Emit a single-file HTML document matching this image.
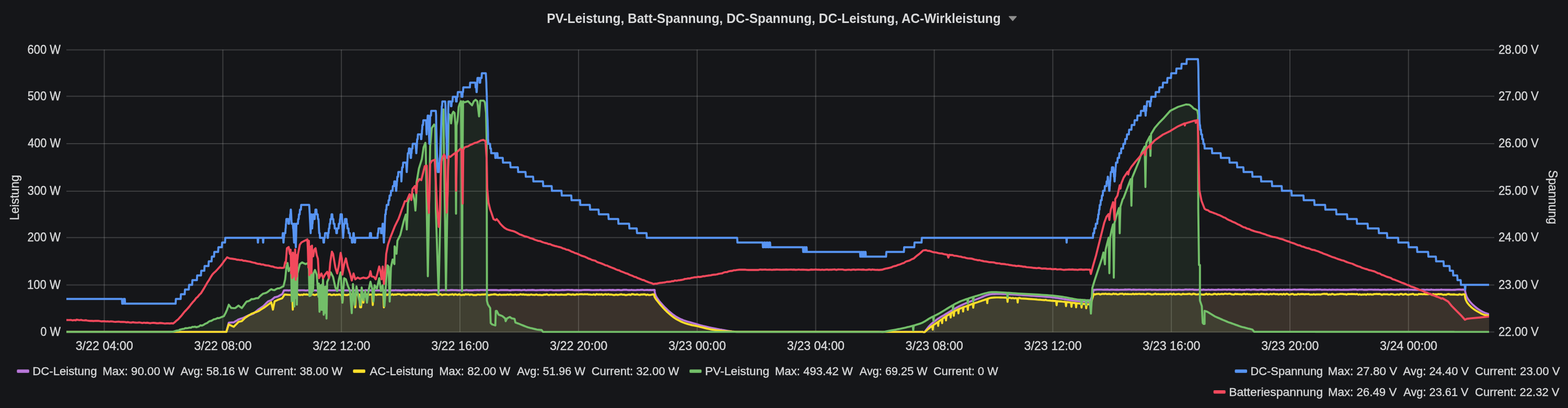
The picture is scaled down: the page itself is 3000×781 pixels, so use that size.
<!DOCTYPE html>
<html><head><meta charset="utf-8"><title>PV-Leistung, Batt-Spannung, DC-Spannung, DC-Leistung, AC-Wirkleistung</title>
<style>html,body{margin:0;padding:0;background:#151619;} body{width:3000px;height:781px;overflow:hidden;position:relative;}</style>
</head><body>
<svg width="3000" height="781" viewBox="0 0 3000 781" style="position:absolute;left:0;top:0">
<defs><clipPath id="pc"><rect x="127" y="90" width="2722" height="547.4"/></clipPath></defs>
<g stroke="rgba(200,200,200,0.22)" stroke-width="2"><line x1="127" y1="635.4" x2="2859" y2="635.4"/><line x1="127" y1="545.5" x2="2859" y2="545.5"/><line x1="127" y1="454.8" x2="2859" y2="454.8"/><line x1="127" y1="365.9" x2="2859" y2="365.9"/><line x1="127" y1="275.0" x2="2859" y2="275.0"/><line x1="127" y1="184.3" x2="2859" y2="184.3"/><line x1="127" y1="95.4" x2="2859" y2="95.4"/><line x1="199.5" y1="95" x2="199.5" y2="635.4"/><line x1="426.4" y1="95" x2="426.4" y2="635.4"/><line x1="653.2" y1="95" x2="653.2" y2="635.4"/><line x1="880.0" y1="95" x2="880.0" y2="635.4"/><line x1="1106.9" y1="95" x2="1106.9" y2="635.4"/><line x1="1333.8" y1="95" x2="1333.8" y2="635.4"/><line x1="1560.6" y1="95" x2="1560.6" y2="635.4"/><line x1="1787.5" y1="95" x2="1787.5" y2="635.4"/><line x1="2014.3" y1="95" x2="2014.3" y2="635.4"/><line x1="2241.1" y1="95" x2="2241.1" y2="635.4"/><line x1="2468.0" y1="95" x2="2468.0" y2="635.4"/><line x1="2694.8" y1="95" x2="2694.8" y2="635.4"/></g>
<g clip-path="url(#pc)"><path d="M127.0,635.4 L130.0,635.4 L133.0,635.4 L136.0,635.4 L139.0,635.4 L142.0,635.4 L145.0,635.4 L148.0,635.4 L151.0,635.4 L154.0,635.4 L157.0,635.4 L160.0,635.4 L163.0,635.4 L166.0,635.4 L169.0,635.4 L172.0,635.4 L175.0,635.4 L178.0,635.4 L181.0,635.4 L184.0,635.4 L187.0,635.4 L190.0,635.4 L193.0,635.4 L196.0,635.4 L199.0,635.4 L202.0,635.4 L205.0,635.4 L208.0,635.4 L211.0,635.4 L214.0,635.4 L217.0,635.4 L220.0,635.4 L223.0,635.4 L226.0,635.4 L229.0,635.4 L232.0,635.4 L235.0,635.4 L238.0,635.4 L241.0,635.4 L244.0,635.4 L247.0,635.4 L250.0,635.4 L253.0,635.4 L256.0,635.4 L259.0,635.4 L262.0,635.4 L265.0,635.4 L268.0,635.4 L271.0,635.4 L274.0,635.4 L277.0,635.4 L280.0,635.4 L283.0,635.4 L286.0,635.4 L289.0,635.4 L292.0,635.4 L295.0,635.4 L298.0,635.4 L301.0,635.4 L304.0,635.4 L307.0,635.4 L310.0,635.4 L313.0,635.4 L316.0,635.4 L319.0,635.4 L322.0,635.4 L325.0,635.4 L328.0,635.4 L331.0,635.4 L334.0,635.4 L337.0,635.4 L340.0,635.4 L343.0,635.4 L346.0,635.4 L349.0,635.4 L352.0,635.4 L355.0,635.4 L358.0,635.4 L361.0,635.4 L364.0,635.4 L367.0,635.4 L370.0,635.4 L373.0,635.4 L376.0,635.4 L379.0,635.4 L382.0,635.4 L385.0,635.4 L388.0,635.4 L391.0,635.4 L394.0,635.4 L397.0,635.4 L400.0,635.4 L403.0,635.4 L406.0,635.4 L409.0,635.4 L412.0,635.4 L415.0,635.4 L418.0,635.4 L421.0,635.4 L424.0,635.4 L427.0,635.4 L430.0,635.4 L433.0,635.4 L437.7,617.7 L440.8,617.5 L443.9,617.3 L447.1,617.1 L450.2,615.2 L453.3,613.4 L456.4,611.5 L459.6,610.4 L462.7,609.4 L465.8,608.3 L469.0,606.8 L472.1,605.2 L475.2,603.7 L478.3,602.6 L481.5,601.6 L484.6,600.5 L487.7,597.9 L490.9,595.3 L494.0,592.7 L497.1,590.6 L500.3,588.5 L503.4,586.4 L506.5,583.3 L509.6,580.2 L512.8,577.1 L515.9,575.8 L519.0,574.6 L522.2,571.9 L525.3,569.2 L528.4,568.5 L531.5,567.7 L535.8,565.3 L540.0,563.0 L543.4,555.9 L546.4,555.8 L549.4,555.7 L552.4,556.0 L555.4,555.6 L558.4,555.9 L561.5,555.8 L564.5,555.6 L567.5,555.9 L570.5,555.6 L573.5,555.8 L576.5,555.6 L579.5,555.6 L582.5,555.8 L585.5,556.1 L588.5,555.6 L591.5,555.7 L594.5,555.9 L597.6,556.2 L600.6,555.9 L603.6,555.8 L606.6,556.2 L609.6,555.5 L612.6,556.1 L615.6,555.7 L618.6,555.6 L621.6,555.6 L624.6,555.7 L627.6,556.0 L630.6,555.6 L633.6,555.9 L636.7,555.9 L639.7,555.7 L642.7,555.8 L645.7,555.5 L648.7,555.5 L651.7,555.6 L654.7,555.9 L657.7,555.7 L660.7,555.6 L663.7,555.8 L666.7,555.7 L669.7,555.6 L672.8,556.0 L675.8,555.9 L678.8,555.6 L681.8,555.8 L684.8,555.8 L687.8,556.0 L690.8,555.9 L693.8,555.6 L696.8,556.1 L699.8,555.5 L702.8,555.7 L705.8,555.9 L708.9,555.5 L711.9,555.7 L714.9,555.4 L717.9,555.8 L720.9,555.9 L723.9,555.7 L726.9,555.9 L729.9,555.5 L732.9,555.8 L735.9,555.7 L738.9,555.7 L741.9,555.6 L744.9,555.9 L748.0,556.0 L751.0,555.6 L754.0,555.8 L757.0,555.3 L760.0,555.8 L763.0,555.7 L766.0,556.0 L769.0,555.9 L772.0,555.5 L775.0,555.5 L778.0,555.7 L781.0,555.3 L784.1,555.6 L787.1,555.4 L790.1,555.3 L793.1,555.3 L796.1,555.8 L799.1,555.3 L802.1,555.4 L805.1,555.5 L808.1,555.8 L811.1,555.3 L814.1,555.5 L817.1,555.6 L820.1,555.8 L823.2,555.8 L826.2,555.8 L829.2,555.4 L832.2,555.5 L835.2,555.4 L838.2,555.8 L841.2,555.9 L844.2,555.3 L847.2,555.3 L850.2,555.3 L853.2,555.3 L856.2,555.5 L859.3,555.6 L862.3,555.3 L865.3,555.2 L868.3,555.4 L871.3,555.4 L874.3,555.5 L877.3,555.8 L880.3,555.6 L883.3,555.5 L886.3,555.6 L889.3,555.6 L892.3,555.2 L895.3,555.7 L898.4,555.7 L901.4,555.7 L904.4,555.7 L907.4,555.4 L910.4,555.4 L913.4,555.2 L916.4,555.5 L919.4,555.1 L922.4,555.1 L925.4,555.2 L928.4,555.2 L931.4,555.3 L934.5,555.1 L937.5,555.1 L940.5,555.2 L943.5,555.1 L946.5,555.3 L949.5,555.1 L952.5,555.7 L955.5,555.5 L958.5,555.1 L961.5,555.2 L964.5,555.3 L967.5,555.3 L970.6,555.1 L973.6,555.6 L976.6,555.7 L979.6,555.3 L982.6,555.3 L985.6,555.1 L988.6,555.1 L991.6,555.2 L994.6,555.2 L997.6,555.6 L1000.6,555.1 L1003.6,555.0 L1006.6,555.6 L1009.7,555.3 L1012.7,555.1 L1015.7,555.3 L1018.7,555.0 L1021.7,555.3 L1024.7,555.6 L1027.7,555.5 L1030.7,555.4 L1033.7,555.1 L1036.7,555.2 L1039.7,555.0 L1042.7,555.5 L1045.8,555.3 L1048.8,555.5 L1051.8,555.1 L1054.8,555.1 L1057.8,555.5 L1060.8,555.6 L1063.8,555.5 L1066.8,555.5 L1069.8,555.5 L1072.8,555.4 L1075.8,555.0 L1078.8,555.2 L1081.8,555.1 L1084.9,554.9 L1087.9,554.9 L1090.9,555.1 L1093.9,555.0 L1096.9,555.3 L1099.9,555.5 L1102.9,555.2 L1105.9,555.5 L1108.9,555.5 L1111.9,555.5 L1114.9,555.1 L1117.9,555.0 L1121.0,555.0 L1124.0,555.0 L1127.0,555.0 L1130.0,555.2 L1133.0,555.4 L1136.0,555.4 L1139.0,555.1 L1142.0,555.2 L1145.0,555.3 L1148.0,554.8 L1151.0,555.2 L1154.0,555.4 L1157.1,555.3 L1160.1,555.3 L1163.1,555.1 L1166.1,554.9 L1169.1,555.3 L1172.1,555.0 L1175.1,555.3 L1178.1,555.4 L1181.1,555.0 L1184.1,555.0 L1187.1,555.4 L1190.1,555.2 L1193.1,554.8 L1196.2,554.8 L1199.2,554.8 L1202.2,555.3 L1205.2,555.3 L1208.2,554.8 L1211.2,555.3 L1214.2,555.4 L1217.2,555.2 L1220.2,554.9 L1223.2,555.1 L1226.2,554.8 L1229.2,554.7 L1232.3,555.4 L1235.3,555.1 L1238.3,555.0 L1241.3,555.3 L1244.3,555.0 L1247.3,555.3 L1250.3,555.0 L1252.4,554.9 L1252.5,556.5 L1252.7,558.7 L1253.1,561.3 L1253.8,563.8 L1254.9,566.3 L1256.3,569.0 L1258.0,571.6 L1259.8,574.3 L1261.8,576.9 L1264.0,579.5 L1266.3,582.1 L1268.7,584.7 L1271.1,587.3 L1273.7,589.9 L1276.3,592.5 L1279.2,595.1 L1282.3,597.8 L1285.6,600.5 L1289.1,603.2 L1292.6,605.6 L1296.2,607.7 L1300.0,609.7 L1303.7,611.4 L1307.5,613.0 L1311.4,614.4 L1315.4,615.6 L1319.2,616.6 L1322.4,617.5 L1324.6,618.2 L1326.2,618.6 L1327.8,619.1 L1330.0,619.7 L1333.0,620.6 L1336.5,621.7 L1340.5,622.8 L1345.0,624.0 L1350.4,625.2 L1356.5,626.6 L1362.7,627.9 L1368.3,629.0 L1373.0,629.9 L1377.2,630.7 L1381.1,631.3 L1385.0,632.0 L1388.9,632.7 L1392.8,633.4 L1396.5,634.0 L1400.0,634.5 L1403.5,634.8 L1406.9,635.1 L1409.9,635.2 L1412.0,635.3 L1417.7,635.2 L1420.7,635.2 L1423.7,635.2 L1426.7,635.2 L1429.7,635.2 L1432.7,635.2 L1435.7,635.2 L1438.7,635.2 L1441.7,635.2 L1444.7,635.2 L1447.7,635.2 L1450.7,635.2 L1453.7,635.2 L1456.7,635.2 L1459.7,635.2 L1462.8,635.2 L1465.8,635.2 L1468.8,635.2 L1471.8,635.2 L1474.8,635.2 L1477.8,635.2 L1480.8,635.2 L1483.8,635.2 L1486.8,635.2 L1489.8,635.2 L1492.8,635.2 L1495.8,635.2 L1498.8,635.2 L1501.8,635.2 L1504.8,635.2 L1507.8,635.2 L1510.8,635.2 L1513.8,635.2 L1516.8,635.2 L1519.8,635.2 L1522.8,635.2 L1525.8,635.2 L1528.8,635.2 L1531.8,635.3 L1534.8,635.3 L1537.8,635.3 L1540.8,635.3 L1543.8,635.3 L1546.8,635.3 L1549.8,635.3 L1552.8,635.3 L1555.8,635.3 L1558.8,635.3 L1561.8,635.3 L1564.8,635.3 L1567.8,635.3 L1570.8,635.3 L1573.8,635.3 L1576.8,635.3 L1579.8,635.3 L1582.8,635.3 L1585.9,635.3 L1588.9,635.3 L1591.9,635.3 L1594.9,635.3 L1597.9,635.3 L1600.9,635.3 L1603.9,635.3 L1606.9,635.3 L1609.9,635.3 L1612.9,635.3 L1615.9,635.3 L1618.9,635.3 L1621.9,635.3 L1624.9,635.3 L1627.9,635.3 L1630.9,635.3 L1633.9,635.3 L1636.9,635.3 L1639.9,635.3 L1642.9,635.3 L1645.9,635.3 L1648.9,635.3 L1651.9,635.3 L1654.9,635.3 L1657.9,635.3 L1660.9,635.3 L1663.9,635.3 L1666.9,635.3 L1669.9,635.3 L1672.9,635.3 L1675.9,635.3 L1678.9,635.3 L1681.9,635.3 L1684.9,635.3 L1687.9,635.4 L1690.9,635.4 L1693.9,635.4 L1696.9,635.4 L1699.9,635.4 L1702.9,635.4 L1706.0,635.4 L1709.0,635.4 L1712.0,635.4 L1715.0,635.4 L1718.0,635.4 L1721.0,635.4 L1724.0,635.4 L1727.0,635.4 L1730.0,635.4 L1733.0,635.4 L1736.0,635.4 L1739.0,635.4 L1742.0,635.4 L1745.0,635.4 L1748.0,635.4 L1751.0,635.4 L1754.0,635.4 L1757.0,635.4 L1760.0,635.4 L1763.0,635.4 L1766.0,635.4 L1768.2,636.5 L1769.5,634.9 L1771.2,632.6 L1773.2,629.9 L1775.5,627.1 L1777.8,624.3 L1780.1,621.9 L1782.4,619.7 L1784.9,617.6 L1787.4,615.6 L1790.0,613.6 L1792.5,611.7 L1795.0,609.9 L1797.5,608.3 L1800.0,606.7 L1802.5,605.3 L1805.0,603.9 L1807.5,602.5 L1809.9,601.0 L1812.5,599.5 L1815.0,597.9 L1817.6,596.4 L1820.1,594.9 L1822.5,593.4 L1824.9,592.1 L1827.0,590.8 L1829.1,589.6 L1831.0,588.6 L1832.9,587.5 L1834.8,586.5 L1836.8,585.5 L1838.8,584.5 L1840.8,583.6 L1842.7,582.7 L1844.7,581.8 L1846.7,581.0 L1848.7,580.1 L1850.7,579.3 L1852.7,578.6 L1854.7,577.8 L1856.7,577.1 L1858.6,576.4 L1860.6,575.7 L1862.6,574.9 L1864.5,574.2 L1866.4,573.5 L1868.4,572.8 L1870.4,572.0 L1872.6,571.2 L1874.9,570.2 L1877.4,569.2 L1880.0,568.1 L1882.6,567.0 L1885.1,566.0 L1887.5,565.2 L1889.5,564.6 L1891.2,564.1 L1892.9,563.7 L1894.6,563.3 L1896.7,563.1 L1899.4,562.8 L1902.6,562.7 L1906.2,562.6 L1910.2,562.6 L1914.4,562.6 L1918.8,562.7 L1923.2,562.8 L1927.9,563.0 L1932.7,563.3 L1937.8,563.6 L1942.9,563.9 L1948.0,564.3 L1953.1,564.6 L1958.0,565.0 L1963.0,565.3 L1968.0,565.6 L1972.9,566.0 L1977.9,566.3 L1982.9,566.7 L1987.9,567.1 L1993.0,567.4 L1998.2,567.8 L2003.2,568.2 L2008.1,568.6 L2012.7,569.1 L2017.0,569.6 L2021.2,570.2 L2025.2,570.9 L2029.0,571.5 L2032.8,572.1 L2036.5,572.7 L2040.1,573.2 L2043.5,573.7 L2046.8,574.3 L2050.2,574.8 L2053.7,575.2 L2057.4,575.7 L2061.8,576.1 L2066.7,576.5 L2071.8,576.9 L2076.6,577.2 L2080.7,577.5 L2083.6,577.7 L2085.4,577.8 L2089.0,568.2 L2092.6,554.6 L2095.6,554.8 L2098.6,554.4 L2101.6,554.4 L2104.6,554.4 L2107.6,554.4 L2110.6,554.6 L2113.6,554.4 L2116.6,554.5 L2119.6,554.3 L2122.6,554.9 L2125.6,554.5 L2128.6,554.5 L2131.6,554.6 L2134.6,554.8 L2137.6,554.5 L2140.7,554.9 L2143.7,554.6 L2146.7,554.6 L2149.7,554.6 L2152.7,554.2 L2155.7,554.5 L2158.7,554.3 L2161.7,554.2 L2164.7,554.8 L2167.7,554.3 L2170.7,554.5 L2173.7,554.7 L2176.7,554.6 L2179.7,554.4 L2182.7,554.6 L2185.7,554.6 L2188.8,554.8 L2191.8,554.3 L2194.8,554.6 L2197.8,554.4 L2200.8,554.4 L2203.8,554.8 L2206.8,554.6 L2209.8,554.6 L2212.8,554.8 L2215.8,554.9 L2218.8,554.5 L2221.8,554.6 L2224.8,554.6 L2227.8,554.6 L2230.8,554.7 L2233.8,554.5 L2236.9,554.6 L2239.9,554.6 L2242.9,554.9 L2245.9,554.7 L2248.9,554.8 L2251.9,554.9 L2254.9,554.4 L2257.9,554.6 L2260.9,554.9 L2263.9,554.8 L2266.9,554.3 L2269.9,554.3 L2272.9,554.5 L2275.9,554.3 L2278.9,554.4 L2281.9,554.3 L2284.9,554.7 L2288.0,554.8 L2291.0,554.9 L2294.0,554.3 L2297.0,554.7 L2300.0,554.7 L2303.0,554.3 L2306.0,554.8 L2309.0,554.9 L2312.0,554.4 L2315.0,554.9 L2318.0,554.5 L2321.0,554.6 L2324.0,554.9 L2327.0,554.8 L2330.0,554.3 L2333.0,554.5 L2336.1,554.6 L2339.1,554.5 L2342.1,554.4 L2345.1,554.4 L2348.1,554.7 L2351.1,554.2 L2354.1,554.6 L2357.1,554.5 L2360.1,554.2 L2363.1,554.5 L2366.1,554.7 L2369.1,554.6 L2372.1,554.3 L2375.1,554.9 L2378.1,554.8 L2381.1,554.9 L2384.2,554.3 L2387.2,554.4 L2390.2,554.3 L2393.2,554.8 L2396.2,554.4 L2399.2,554.3 L2402.2,554.5 L2405.2,554.9 L2408.2,554.8 L2411.2,554.4 L2414.2,554.3 L2417.2,554.9 L2420.2,554.6 L2423.2,554.7 L2426.2,554.3 L2429.2,554.3 L2432.2,554.7 L2435.3,554.5 L2438.3,554.3 L2441.3,554.9 L2444.3,554.7 L2447.3,554.8 L2450.3,554.3 L2453.3,554.8 L2456.3,554.3 L2459.3,554.8 L2462.3,554.5 L2465.3,554.5 L2468.3,554.6 L2471.3,554.9 L2474.3,554.4 L2477.3,554.3 L2480.3,554.6 L2483.4,554.4 L2486.4,554.3 L2489.4,554.3 L2492.4,554.3 L2495.4,554.4 L2498.4,554.5 L2501.4,554.4 L2504.4,554.8 L2507.4,554.4 L2510.4,554.6 L2513.4,554.4 L2516.4,554.5 L2519.4,554.2 L2522.4,554.4 L2525.4,554.2 L2528.4,554.7 L2531.5,554.6 L2534.5,554.4 L2537.5,554.6 L2540.5,554.9 L2543.5,554.3 L2546.5,554.8 L2549.5,554.5 L2552.5,554.6 L2555.5,554.8 L2558.5,554.5 L2561.5,554.6 L2564.5,554.7 L2567.5,554.9 L2570.5,554.5 L2573.5,554.8 L2576.5,554.7 L2579.5,554.7 L2582.6,554.5 L2585.6,554.5 L2588.6,554.3 L2591.6,554.3 L2594.6,554.3 L2597.6,554.8 L2600.6,554.4 L2603.6,554.4 L2606.6,554.3 L2609.6,554.8 L2612.6,554.8 L2615.6,554.7 L2618.6,554.4 L2621.6,554.4 L2624.6,554.4 L2627.6,554.6 L2630.7,554.4 L2633.7,554.6 L2636.7,554.4 L2639.7,554.9 L2642.7,554.9 L2645.7,554.6 L2648.7,554.4 L2651.7,554.9 L2654.7,554.5 L2657.7,554.5 L2660.7,554.2 L2663.7,554.5 L2666.7,554.6 L2669.7,554.6 L2672.7,554.4 L2675.7,554.6 L2678.7,554.2 L2681.8,554.4 L2684.8,554.3 L2687.8,554.5 L2690.8,554.3 L2693.8,554.3 L2696.8,554.5 L2699.8,554.4 L2702.8,554.7 L2705.8,554.6 L2708.8,554.8 L2711.8,554.7 L2714.8,554.7 L2717.8,554.9 L2720.8,554.5 L2723.8,554.5 L2726.8,554.9 L2729.9,554.4 L2732.9,554.8 L2735.9,554.7 L2738.9,554.3 L2741.9,554.8 L2744.9,554.9 L2747.9,554.7 L2750.9,554.8 L2753.9,554.8 L2756.9,554.3 L2759.9,554.6 L2762.9,554.6 L2765.9,554.8 L2768.9,554.8 L2771.9,554.8 L2774.9,554.7 L2778.0,554.9 L2781.0,554.7 L2784.0,554.7 L2787.0,554.4 L2790.0,554.3 L2793.0,554.3 L2796.0,554.5 L2799.0,554.3 L2802.9,554.8 L2803.1,556.2 L2803.4,558.3 L2803.8,560.6 L2804.4,562.9 L2805.1,565.0 L2805.9,567.2 L2806.9,569.5 L2808.3,571.9 L2810.1,574.5 L2812.3,577.3 L2814.7,580.0 L2817.2,582.6 L2819.8,585.0 L2822.5,587.4 L2825.3,589.6 L2828.0,591.6 L2830.7,593.4 L2833.3,595.0 L2836.0,596.5 L2838.7,597.8 L2841.6,599.0 L2844.8,600.2 L2847.6,601.1 L2849.5,601.8 L2849.5,636.3 L127.0,636.3 Z" fill="#B877D9" fill-opacity="0.1" stroke="none"/><path d="M127.0,635.4 L129.5,635.4 L132.0,635.4 L134.5,635.4 L137.0,635.4 L139.5,635.4 L142.0,635.4 L144.6,635.4 L147.1,635.4 L149.6,635.4 L152.1,635.4 L154.6,635.4 L157.1,635.4 L159.6,635.4 L162.1,635.4 L164.6,635.4 L167.1,635.4 L169.6,635.4 L172.1,635.4 L174.7,635.4 L177.2,635.4 L179.7,635.4 L182.2,635.4 L184.7,635.4 L187.2,635.4 L189.7,635.4 L192.2,635.4 L194.7,635.4 L197.2,635.4 L199.7,635.4 L202.2,635.4 L204.8,635.4 L207.3,635.4 L209.8,635.4 L212.3,635.4 L214.8,635.4 L217.3,635.4 L219.8,635.4 L222.3,635.4 L224.8,635.4 L227.3,635.4 L229.8,635.4 L232.3,635.4 L234.9,635.4 L237.4,635.4 L239.9,635.4 L242.4,635.4 L244.9,635.4 L247.4,635.4 L249.9,635.4 L252.4,635.4 L254.9,635.4 L257.4,635.4 L259.9,635.4 L262.4,635.4 L265.0,635.4 L267.5,635.4 L270.0,635.4 L272.5,635.4 L275.0,635.4 L277.5,635.4 L280.0,635.4 L282.5,635.4 L285.0,635.4 L287.5,635.4 L290.0,635.4 L292.5,635.4 L295.0,635.4 L297.6,635.4 L300.1,635.4 L302.6,635.4 L305.1,635.4 L307.6,635.4 L310.1,635.4 L312.6,635.4 L315.1,635.4 L317.6,635.4 L320.1,635.4 L322.6,635.4 L325.1,635.4 L327.7,635.4 L330.2,635.4 L332.7,635.4 L335.2,635.4 L337.7,635.4 L340.2,635.4 L342.7,635.4 L345.2,635.4 L347.7,635.4 L350.2,635.4 L352.7,635.4 L355.2,635.4 L357.8,635.4 L360.3,635.4 L362.8,635.4 L365.3,635.4 L367.8,635.4 L370.3,635.4 L372.8,635.4 L375.3,635.4 L377.8,635.4 L380.3,635.4 L382.8,635.4 L385.3,635.4 L387.9,635.4 L390.4,635.4 L392.9,635.4 L395.4,635.4 L397.9,635.4 L400.4,635.4 L402.9,635.4 L405.4,635.4 L407.9,635.4 L410.4,635.4 L412.9,635.4 L415.4,635.4 L418.0,635.4 L420.5,635.4 L423.0,635.4 L425.5,635.4 L428.0,635.4 L430.5,635.4 L433.0,635.4 L437.7,620.9 L440.8,622.4 L443.9,624.0 L447.1,625.6 L450.2,622.4 L453.3,619.3 L456.4,616.2 L459.6,615.4 L462.7,614.6 L465.8,611.5 L469.0,608.3 L471.5,606.8 L474.0,605.2 L476.5,603.7 L479.0,602.1 L481.5,600.5 L484.0,599.6 L486.5,598.6 L489.0,597.7 L491.5,596.8 L494.0,595.8 L496.5,594.3 L499.0,592.7 L501.5,591.1 L504.0,589.6 L506.5,588.0 L509.6,585.7 L512.8,583.3 L515.9,581.0 L519.0,578.6 L522.2,592.7 L525.3,577.1 L528.4,575.5 L531.5,573.9 L534.4,572.9 L537.2,571.8 L540.0,570.8 L544.5,563.7 L547.4,564.0 L550.3,564.3 L553.2,564.4 L556.1,564.7 L559.1,564.0 L560.2,592.8 L561.3,564.0 L563.8,564.4 L566.3,564.7 L568.8,563.1 L571.3,563.9 L573.9,564.8 L576.4,564.2 L578.9,564.7 L581.4,563.3 L583.9,563.9 L586.4,563.5 L588.9,564.0 L591.5,564.1 L594.0,563.1 L596.5,563.5 L599.0,563.6 L601.5,564.7 L604.0,564.4 L606.5,563.4 L609.1,564.5 L611.6,563.3 L614.1,564.2 L616.6,563.3 L619.1,563.1 L621.6,564.0 L622.7,595.0 L623.9,564.0 L626.4,564.6 L628.9,563.4 L631.4,563.5 L633.9,564.8 L636.4,564.6 L638.9,563.6 L641.5,564.8 L644.0,564.0 L646.5,564.3 L649.0,563.4 L651.5,564.8 L654.0,564.0 L655.1,579.4 L656.3,564.0 L659.1,564.3 L661.8,564.8 L664.6,564.7 L667.4,563.6 L670.2,563.7 L673.0,563.4 L675.8,563.3 L678.6,564.0 L679.7,588.3 L680.8,564.0 L684.2,563.2 L687.5,564.0 L689.1,588.3 L690.9,588.3 L692.7,564.0 L694.2,564.0 L695.4,579.4 L696.5,564.0 L699.1,563.6 L701.7,564.2 L704.3,563.1 L706.9,564.3 L709.5,563.7 L712.1,564.0 L713.2,583.9 L714.4,564.0 L717.1,563.6 L719.8,564.5 L722.5,563.9 L725.2,563.6 L727.9,563.9 L730.6,564.3 L733.4,564.0 L734.5,588.3 L735.6,564.0 L738.1,563.2 L740.6,564.8 L743.1,563.1 L745.6,564.4 L748.1,564.6 L750.6,563.1 L753.1,564.5 L755.6,563.7 L758.1,564.1 L760.6,563.1 L763.1,563.1 L765.6,563.4 L768.1,564.8 L770.6,563.4 L773.2,564.4 L775.7,564.7 L778.2,564.8 L780.7,563.7 L783.2,563.7 L785.7,564.0 L788.2,564.5 L790.7,563.3 L793.2,564.4 L795.7,564.5 L798.2,564.6 L800.7,563.1 L803.2,564.8 L805.7,563.2 L808.2,563.7 L810.7,564.2 L813.2,564.7 L815.7,563.7 L818.2,564.7 L820.7,564.0 L823.2,563.6 L825.7,563.6 L828.3,563.4 L830.8,563.2 L833.3,563.3 L835.8,564.3 L838.3,564.8 L840.8,563.3 L843.3,563.1 L845.8,564.8 L848.3,564.0 L850.8,563.8 L853.3,563.5 L855.8,564.1 L858.3,564.5 L860.8,563.9 L863.3,563.8 L865.8,563.1 L868.3,564.7 L870.8,563.1 L873.3,563.9 L875.8,564.6 L878.3,563.3 L880.8,564.4 L883.3,564.8 L885.9,564.2 L888.4,564.5 L890.9,563.2 L893.4,563.8 L895.9,563.3 L898.4,564.6 L900.9,563.6 L903.4,563.9 L905.9,564.8 L908.4,564.6 L910.9,564.8 L913.4,563.9 L915.9,563.9 L918.4,564.4 L920.9,563.9 L923.4,563.6 L925.9,563.8 L928.4,563.3 L930.9,563.7 L933.4,564.8 L935.9,564.8 L938.4,564.2 L941.0,563.9 L943.5,563.6 L946.0,563.2 L948.5,563.5 L951.0,564.4 L953.5,564.6 L956.0,563.7 L958.5,564.5 L961.0,564.4 L963.5,564.3 L966.0,564.2 L968.5,564.4 L971.0,563.7 L973.5,564.3 L976.0,563.5 L978.5,563.9 L981.0,564.4 L983.5,564.3 L986.0,563.6 L988.5,564.7 L991.0,564.2 L993.5,564.1 L996.0,563.1 L998.6,564.0 L1001.1,563.5 L1003.6,564.2 L1006.1,563.9 L1008.6,564.5 L1011.1,564.2 L1013.6,564.5 L1016.1,563.7 L1018.6,564.2 L1021.1,564.4 L1023.6,564.5 L1026.1,563.7 L1028.6,564.5 L1031.1,564.6 L1033.6,564.3 L1036.1,564.8 L1038.6,564.7 L1041.1,564.0 L1043.6,564.0 L1046.1,563.3 L1048.6,564.5 L1051.1,564.7 L1053.6,563.9 L1056.2,564.3 L1058.7,564.3 L1061.2,564.3 L1063.7,563.3 L1066.2,564.4 L1068.7,564.1 L1071.2,564.2 L1073.7,563.8 L1076.2,564.1 L1078.7,564.4 L1081.2,564.2 L1083.7,564.3 L1086.2,563.1 L1088.7,563.3 L1091.2,563.8 L1093.7,564.2 L1096.2,563.4 L1098.7,564.3 L1101.2,564.2 L1103.7,563.1 L1106.2,563.9 L1108.7,563.4 L1111.3,563.1 L1113.8,563.3 L1116.3,563.6 L1118.8,563.3 L1121.3,563.4 L1123.8,563.1 L1126.3,563.9 L1128.8,563.7 L1131.3,564.1 L1133.8,564.1 L1136.3,563.4 L1138.8,564.6 L1141.3,563.0 L1143.8,563.7 L1146.3,563.5 L1148.8,563.8 L1151.3,563.2 L1153.8,564.5 L1156.3,563.7 L1158.8,563.1 L1161.3,564.1 L1163.8,563.2 L1166.3,564.0 L1168.9,563.6 L1171.4,564.1 L1173.9,564.7 L1176.4,564.5 L1178.9,563.8 L1181.4,564.5 L1183.9,564.2 L1186.4,563.7 L1188.9,563.3 L1191.4,564.1 L1193.9,564.0 L1196.4,564.7 L1198.9,564.7 L1201.4,564.1 L1203.9,563.6 L1206.4,564.6 L1208.9,563.0 L1211.4,563.2 L1213.9,564.0 L1216.4,564.1 L1218.9,563.3 L1221.4,564.1 L1224.0,564.6 L1226.5,563.7 L1229.0,563.8 L1231.5,563.4 L1234.0,563.5 L1236.5,564.8 L1239.0,563.7 L1241.5,564.7 L1244.0,564.6 L1246.5,564.1 L1249.0,563.5 L1251.6,563.8 L1251.7,564.8 L1251.9,566.2 L1252.3,568.0 L1253.1,569.8 L1254.4,571.8 L1256.0,574.0 L1257.8,576.3 L1259.8,578.7 L1261.8,581.2 L1264.0,583.9 L1266.3,586.5 L1268.7,589.2 L1271.1,591.8 L1273.7,594.4 L1276.3,597.0 L1279.2,599.6 L1282.3,602.3 L1285.6,605.0 L1289.1,607.6 L1292.6,610.0 L1296.2,612.1 L1300.0,614.1 L1303.7,615.9 L1307.5,617.5 L1311.4,618.9 L1315.4,620.1 L1319.2,621.2 L1322.4,622.0 L1324.6,622.5 L1326.2,622.8 L1327.8,623.1 L1330.0,623.5 L1333.2,624.2 L1337.0,625.1 L1341.0,626.1 L1345.0,627.0 L1348.9,628.0 L1352.9,629.0 L1356.9,629.9 L1361.2,630.8 L1365.8,631.5 L1370.6,632.2 L1375.4,632.7 L1380.0,633.2 L1384.4,633.6 L1388.7,634.0 L1392.9,634.2 L1397.0,634.5 L1401.2,634.8 L1405.6,635.0 L1409.4,635.2 L1412.0,635.3 L1417.3,635.2 L1419.8,635.2 L1422.3,635.2 L1424.8,635.2 L1427.3,635.2 L1429.8,635.2 L1432.3,635.2 L1434.8,635.2 L1437.3,635.2 L1439.8,635.2 L1442.4,635.2 L1444.9,635.2 L1447.4,635.2 L1449.9,635.2 L1452.4,635.2 L1454.9,635.2 L1457.4,635.2 L1459.9,635.2 L1462.4,635.2 L1464.9,635.2 L1467.4,635.2 L1469.9,635.2 L1472.5,635.2 L1475.0,635.2 L1477.5,635.2 L1480.0,635.2 L1482.5,635.2 L1485.0,635.2 L1487.5,635.2 L1490.0,635.2 L1492.5,635.2 L1495.0,635.2 L1497.5,635.2 L1500.1,635.2 L1502.6,635.2 L1505.1,635.2 L1507.6,635.2 L1510.1,635.2 L1512.6,635.2 L1515.1,635.2 L1517.6,635.3 L1520.1,635.3 L1522.6,635.3 L1525.1,635.3 L1527.7,635.3 L1530.2,635.3 L1532.7,635.3 L1535.2,635.3 L1537.7,635.3 L1540.2,635.3 L1542.7,635.3 L1545.2,635.3 L1547.7,635.3 L1550.2,635.3 L1552.7,635.3 L1555.3,635.3 L1557.8,635.3 L1560.3,635.3 L1562.8,635.3 L1565.3,635.3 L1567.8,635.3 L1570.3,635.3 L1572.8,635.3 L1575.3,635.3 L1577.8,635.3 L1580.3,635.3 L1582.8,635.3 L1585.4,635.3 L1587.9,635.3 L1590.4,635.3 L1592.9,635.3 L1595.4,635.3 L1597.9,635.3 L1600.4,635.3 L1602.9,635.3 L1605.4,635.3 L1607.9,635.3 L1610.4,635.3 L1613.0,635.3 L1615.5,635.3 L1618.0,635.3 L1620.5,635.3 L1623.0,635.3 L1625.5,635.3 L1628.0,635.3 L1630.5,635.3 L1633.0,635.3 L1635.5,635.3 L1638.0,635.3 L1640.6,635.3 L1643.1,635.3 L1645.6,635.3 L1648.1,635.3 L1650.6,635.3 L1653.1,635.3 L1655.6,635.3 L1658.1,635.3 L1660.6,635.3 L1663.1,635.3 L1665.6,635.3 L1668.2,635.3 L1670.7,635.3 L1673.2,635.3 L1675.7,635.3 L1678.2,635.3 L1680.7,635.3 L1683.2,635.4 L1685.7,635.4 L1688.2,635.4 L1690.7,635.4 L1693.2,635.4 L1695.8,635.4 L1698.3,635.4 L1700.8,635.4 L1703.3,635.4 L1705.8,635.4 L1708.3,635.4 L1710.8,635.4 L1713.3,635.4 L1715.8,635.4 L1718.3,635.4 L1720.8,635.4 L1723.3,635.4 L1725.9,635.4 L1728.4,635.4 L1730.9,635.4 L1733.4,635.4 L1735.9,635.4 L1738.4,635.4 L1740.9,635.4 L1743.4,635.4 L1745.9,635.4 L1748.4,635.4 L1750.9,635.4 L1753.5,635.4 L1756.0,635.4 L1758.5,635.4 L1761.0,635.4 L1763.5,635.4 L1766.0,635.4 L1768.2,636.5 L1769.5,635.4 L1771.2,633.9 L1773.2,632.1 L1775.5,630.1 L1777.8,628.2 L1780.1,626.3 L1782.4,624.6 L1783.7,623.7 L1784.6,631.1 L1785.5,622.5 L1787.4,621.1 L1790.0,619.4 L1792.5,617.7 L1794.1,616.6 L1795.0,623.9 L1795.9,615.3 L1797.5,614.2 L1800.0,612.4 L1801.6,611.2 L1802.5,618.6 L1803.4,610.0 L1805.0,608.8 L1807.5,607.1 L1809.1,606.0 L1810.0,613.4 L1810.9,604.9 L1812.5,603.9 L1815.0,602.3 L1817.6,600.7 L1818.0,600.5 L1818.9,607.9 L1819.8,599.4 L1820.1,599.2 L1822.5,597.8 L1824.0,597.0 L1824.9,604.5 L1825.8,596.0 L1827.0,595.3 L1829.1,594.3 L1831.0,593.3 L1832.9,592.3 L1833.8,599.9 L1834.7,591.5 L1834.8,591.4 L1836.8,590.6 L1838.8,589.7 L1840.8,589.0 L1841.8,588.6 L1842.7,596.3 L1843.6,587.9 L1844.7,587.5 L1846.7,586.8 L1848.7,586.1 L1850.7,585.3 L1850.8,585.3 L1851.7,593.0 L1852.6,584.6 L1852.7,584.6 L1854.7,583.8 L1856.7,583.1 L1858.6,582.3 L1860.6,581.6 L1861.2,581.4 L1862.1,589.1 L1863.0,580.8 L1864.5,580.3 L1866.4,579.7 L1868.4,579.1 L1870.4,578.5 L1872.6,577.7 L1874.9,576.9 L1877.4,576.1 L1880.0,575.2 L1882.6,574.3 L1885.1,573.4 L1887.5,572.7 L1888.0,572.5 L1888.9,580.2 L1889.8,571.9 L1891.2,571.4 L1892.9,570.9 L1894.6,570.4 L1896.7,570.0 L1899.4,569.7 L1902.6,569.5 L1906.2,569.4 L1910.2,569.4 L1914.4,569.5 L1918.8,569.6 L1923.2,569.7 L1926.8,569.8 L1927.7,577.8 L1928.6,569.9 L1932.7,570.1 L1935.3,571.0 L1937.8,570.3 L1940.3,571.3 L1942.9,570.6 L1945.5,571.4 L1946.2,571.3 L1947.1,579.1 L1948.0,570.9 L1948.0,570.9 L1950.5,570.3 L1953.1,571.2 L1958.0,571.5 L1963.0,571.8 L1968.0,572.2 L1972.9,572.5 L1977.9,572.9 L1982.9,573.3 L1985.4,573.6 L1987.9,573.7 L1990.5,573.7 L1993.0,574.1 L1995.6,574.3 L1998.2,574.5 L2000.7,574.0 L2003.2,574.9 L2008.1,575.3 L2012.7,575.7 L2017.0,576.0 L2020.7,576.3 L2021.6,584.4 L2022.5,576.5 L2025.2,576.7 L2029.0,577.0 L2032.8,577.4 L2036.5,577.7 L2038.7,578.0 L2039.6,586.1 L2040.5,578.2 L2043.5,578.5 L2046.8,578.9 L2049.1,579.2 L2050.0,587.3 L2050.9,579.4 L2053.7,579.7 L2057.4,580.1 L2058.0,580.2 L2058.9,588.3 L2059.8,580.4 L2061.8,580.6 L2066.7,581.0 L2068.4,580.8 L2069.3,588.7 L2070.2,581.0 L2071.8,581.5 L2076.6,581.9 L2077.3,582.0 L2078.2,590.0 L2079.1,582.1 L2080.7,582.3 L2083.6,582.5 L2084.5,581.6 L2087.2,580.7 L2089.9,571.7 L2092.6,562.8 L2095.1,563.7 L2097.6,562.8 L2100.1,562.6 L2102.6,562.5 L2105.1,563.7 L2107.6,562.8 L2110.1,562.4 L2112.6,562.8 L2115.1,562.1 L2117.6,563.0 L2120.1,562.7 L2122.6,562.5 L2125.1,563.3 L2127.7,563.4 L2130.2,562.0 L2132.7,562.9 L2135.2,562.4 L2137.7,563.6 L2140.2,563.4 L2142.7,562.4 L2145.2,562.4 L2147.7,562.2 L2150.2,563.7 L2152.7,562.5 L2155.2,563.1 L2157.7,562.8 L2160.2,563.1 L2162.8,563.1 L2165.3,563.3 L2167.8,562.2 L2170.3,563.4 L2172.8,562.5 L2175.3,563.0 L2177.8,562.6 L2180.3,562.5 L2182.8,563.0 L2185.3,562.8 L2187.8,562.7 L2190.3,563.4 L2192.8,563.1 L2195.3,562.1 L2197.8,562.5 L2200.4,562.8 L2202.9,563.7 L2205.4,563.6 L2207.9,563.0 L2210.4,562.1 L2212.9,563.4 L2215.4,562.8 L2217.9,563.1 L2220.4,563.3 L2222.9,563.2 L2225.4,562.9 L2227.9,563.7 L2230.4,562.8 L2232.9,562.8 L2235.4,563.6 L2238.0,562.4 L2240.5,562.6 L2243.0,563.6 L2245.5,562.2 L2248.0,563.6 L2250.5,563.3 L2253.0,562.9 L2255.5,562.6 L2258.0,563.5 L2260.5,563.7 L2263.0,562.4 L2265.5,563.0 L2268.0,563.1 L2270.5,563.0 L2273.1,562.7 L2275.6,562.4 L2278.1,563.2 L2280.6,563.6 L2283.1,562.3 L2285.6,562.6 L2288.1,563.6 L2290.6,563.6 L2293.1,563.3 L2295.6,562.2 L2298.1,563.5 L2300.6,563.9 L2303.1,564.0 L2305.6,563.4 L2308.1,562.3 L2310.7,563.7 L2313.2,562.6 L2315.7,563.3 L2318.2,563.9 L2320.7,563.5 L2323.2,562.4 L2325.7,562.7 L2328.2,563.8 L2330.7,562.5 L2333.2,563.3 L2335.7,562.9 L2338.2,562.5 L2340.7,563.3 L2343.2,562.3 L2345.8,562.4 L2348.3,562.9 L2350.8,562.4 L2353.3,562.3 L2355.8,563.3 L2358.3,563.6 L2360.8,563.8 L2363.3,562.5 L2365.8,563.0 L2368.3,562.8 L2370.8,563.3 L2373.3,563.1 L2375.8,563.9 L2378.3,562.9 L2380.8,562.4 L2383.4,563.5 L2385.9,562.5 L2388.4,563.4 L2390.9,563.2 L2393.4,563.9 L2395.9,563.3 L2398.4,563.4 L2400.9,562.8 L2403.4,563.3 L2405.9,562.7 L2408.4,563.6 L2410.9,563.2 L2413.4,562.5 L2415.9,562.7 L2418.5,563.0 L2421.0,563.6 L2423.5,562.6 L2426.0,563.6 L2428.5,563.5 L2431.0,562.5 L2433.5,563.5 L2436.0,562.5 L2438.5,562.6 L2441.0,563.4 L2443.5,562.8 L2446.0,563.9 L2448.5,563.2 L2451.0,562.9 L2453.5,563.8 L2456.1,562.4 L2458.6,563.7 L2461.1,562.5 L2463.6,562.6 L2466.1,564.1 L2468.6,563.6 L2471.1,562.8 L2473.6,562.6 L2476.1,564.1 L2478.6,563.6 L2481.1,563.9 L2483.6,562.6 L2486.1,563.5 L2488.6,563.0 L2491.1,562.8 L2493.7,563.0 L2496.2,563.5 L2498.7,563.0 L2501.2,563.1 L2503.7,562.7 L2506.2,563.9 L2508.7,563.6 L2511.2,563.9 L2513.7,563.2 L2516.2,564.0 L2518.7,563.4 L2521.2,563.5 L2523.7,563.5 L2526.2,563.8 L2528.8,563.2 L2531.3,562.6 L2533.8,562.5 L2536.3,562.8 L2538.8,562.5 L2541.3,564.1 L2543.8,563.3 L2546.3,563.8 L2548.8,562.5 L2551.3,563.3 L2553.8,564.1 L2556.3,563.6 L2558.8,563.3 L2561.3,563.3 L2563.8,562.7 L2566.4,562.8 L2568.9,562.8 L2571.4,563.2 L2573.9,563.2 L2576.4,564.1 L2578.9,562.8 L2581.4,563.0 L2583.9,563.0 L2586.4,562.8 L2588.9,563.0 L2591.4,563.0 L2593.9,563.4 L2596.4,562.6 L2598.9,564.2 L2601.5,563.2 L2604.0,564.2 L2606.5,563.8 L2609.0,563.8 L2611.5,563.4 L2614.0,564.3 L2616.5,562.8 L2619.0,563.8 L2621.5,563.1 L2624.0,563.8 L2626.5,563.9 L2629.0,562.9 L2631.5,562.9 L2634.0,562.6 L2636.5,563.0 L2639.1,562.7 L2641.6,563.3 L2644.1,564.4 L2646.6,563.3 L2649.1,563.2 L2651.6,563.4 L2654.1,563.1 L2656.6,563.9 L2659.1,563.9 L2661.6,562.9 L2664.1,563.1 L2666.6,563.8 L2669.1,564.3 L2671.6,563.8 L2674.2,563.4 L2676.7,564.4 L2679.2,562.7 L2681.7,562.8 L2684.2,564.1 L2686.7,563.4 L2689.2,562.7 L2691.7,563.6 L2694.2,564.4 L2696.7,563.6 L2699.2,563.3 L2701.7,562.8 L2704.2,562.8 L2706.7,564.3 L2709.2,563.6 L2711.8,564.4 L2714.3,562.8 L2716.8,563.1 L2719.3,562.8 L2721.8,563.4 L2724.3,562.8 L2726.8,563.2 L2729.3,563.4 L2731.8,563.3 L2734.3,562.8 L2736.8,562.8 L2739.3,564.5 L2741.8,563.0 L2744.3,563.6 L2746.8,563.5 L2749.4,563.7 L2751.9,562.9 L2754.4,563.3 L2756.9,562.9 L2759.4,563.7 L2761.9,564.4 L2764.4,563.8 L2766.9,564.3 L2769.4,563.1 L2771.9,562.8 L2774.4,563.7 L2776.9,563.6 L2779.4,563.8 L2781.9,563.5 L2784.5,563.9 L2787.0,564.1 L2789.5,564.4 L2792.0,563.3 L2794.5,563.6 L2797.0,564.3 L2799.5,563.2 L2802.5,563.7 L2802.7,565.2 L2802.9,567.2 L2803.2,569.6 L2803.8,571.9 L2804.6,574.1 L2805.6,576.3 L2806.8,578.6 L2808.3,580.8 L2810.2,583.1 L2812.4,585.4 L2814.7,587.7 L2817.2,589.8 L2819.8,591.7 L2822.5,593.6 L2825.3,595.3 L2828.0,596.9 L2830.7,598.4 L2833.3,599.9 L2836.0,601.2 L2838.7,602.3 L2841.6,603.1 L2844.8,603.7 L2847.6,604.2 L2849.5,604.5 L2849.5,636.3 L127.0,636.3 Z" fill="#FADE2A" fill-opacity="0.1" stroke="none"/><path d="M127.0,635.4 L129.5,635.4 L132.0,635.4 L134.5,635.4 L137.0,635.4 L139.5,635.4 L142.0,635.4 L144.5,635.4 L147.1,635.4 L149.6,635.4 L152.1,635.4 L154.6,635.4 L157.1,635.4 L159.6,635.4 L162.1,635.4 L164.6,635.4 L167.1,635.4 L169.6,635.4 L172.1,635.4 L174.6,635.4 L177.1,635.4 L179.6,635.4 L182.1,635.4 L184.6,635.4 L187.2,635.4 L189.7,635.4 L192.2,635.4 L194.7,635.4 L197.2,635.4 L199.7,635.4 L202.2,635.4 L204.7,635.4 L207.2,635.4 L209.7,635.4 L212.2,635.4 L214.7,635.4 L217.2,635.4 L219.7,635.4 L222.2,635.4 L224.8,635.4 L227.3,635.4 L229.8,635.4 L232.3,635.4 L234.8,635.4 L237.3,635.4 L239.8,635.4 L242.3,635.4 L244.8,635.4 L247.3,635.4 L249.8,635.4 L252.3,635.4 L254.8,635.4 L257.3,635.4 L259.8,635.4 L262.4,635.4 L264.9,635.4 L267.4,635.4 L269.9,635.4 L272.4,635.4 L274.9,635.4 L277.4,635.4 L279.9,635.4 L282.4,635.4 L284.9,635.4 L287.4,635.4 L289.9,635.4 L292.4,635.4 L294.9,635.4 L297.4,635.4 L299.9,635.4 L302.5,635.4 L305.0,635.4 L307.5,635.4 L310.0,635.4 L312.5,635.4 L315.0,635.4 L317.5,635.4 L320.0,635.4 L322.8,635.3 L325.6,635.2 L328.5,635.1 L331.3,634.9 L333.9,634.2 L336.5,633.3 L339.1,632.7 L341.7,632.7 L344.3,631.0 L346.9,630.3 L349.5,629.7 L352.1,629.4 L354.8,628.1 L357.4,628.2 L360.0,627.9 L362.6,627.1 L365.2,627.4 L367.8,625.8 L370.4,625.9 L373.0,625.3 L375.6,626.4 L378.2,625.6 L380.8,624.9 L383.4,622.6 L386.0,623.4 L388.7,622.3 L391.3,620.6 L393.9,619.3 L396.4,618.3 L398.9,616.1 L401.4,614.6 L403.9,614.3 L406.4,613.0 L408.9,611.3 L411.4,610.8 L413.9,610.1 L416.4,608.8 L418.9,609.0 L422.0,607.7 L425.2,606.4 L428.3,605.2 L431.4,599.6 L434.5,592.7 L437.7,583.3 L442.4,589.6 L445.0,589.6 L447.6,589.9 L450.2,589.6 L453.3,587.2 L456.4,584.9 L459.6,587.6 L462.7,589.6 L465.8,585.3 L469.0,580.8 L472.1,577.1 L475.2,576.5 L478.3,574.9 L481.5,572.4 L484.0,572.7 L486.5,572.2 L489.0,571.1 L491.5,570.6 L494.0,570.8 L497.1,567.3 L500.3,564.5 L503.4,562.1 L506.5,561.4 L509.6,560.4 L512.8,558.3 L515.9,555.7 L519.0,553.6 L522.2,555.1 L525.3,555.2 L528.4,553.4 L531.5,552.0 L534.2,552.0 L536.9,550.8 L539.6,549.1 L542.3,548.1 L545.6,534.7 L547.9,512.3 L550.1,503.4 L552.3,519.1 L555.7,512.3 L557.0,509.9 L558.2,576.7 L559.4,512.7 L560.7,575.5 L561.9,518.0 L563.1,586.6 L564.3,505.3 L565.6,570.6 L566.8,510.4 L568.0,583.1 L569.1,523.5 L573.6,505.6 L578.0,502.3 L581.4,504.0 L584.7,505.6 L589.2,503.4 L591.0,515.3 L592.1,566.6 L593.2,517.5 L594.4,565.8 L595.5,512.9 L596.6,562.4 L597.8,524.9 L598.9,556.8 L600.0,522.7 L602.6,516.8 L606.0,525.8 L609.3,568.2 L610.0,542.8 L611.3,596.8 L612.7,546.3 L614.0,592.7 L615.3,545.2 L616.7,593.1 L618.0,530.6 L619.3,602.5 L620.7,549.3 L622.0,598.7 L623.3,548.5 L624.7,609.7 L626.0,539.6 L628.3,534.7 L632.8,521.3 L637.3,530.2 L641.7,550.3 L645.1,557.0 L648.4,534.7 L651.8,521.3 L655.1,579.4 L658.5,532.5 L661.8,534.7 L665.2,545.9 L669.7,557.0 L673.0,599.5 L675.3,543.6 L678.6,583.9 L682.0,548.1 L685.3,566.0 L689.8,583.9 L692.0,550.3 L695.4,574.9 L698.7,557.0 L702.1,579.4 L705.4,554.8 L708.8,539.2 L712.1,552.6 L714.4,577.2 L716.6,545.9 L721.1,552.6 L725.5,532.5 L728.9,557.0 L732.2,545.9 L735.6,586.1 L738.9,534.7 L741.2,507.9 L743.4,510.1 L745.6,577.2 L747.9,512.3 L751.2,496.7 L754.6,505.6 L755.0,471.5 L758.6,485.8 L760.4,460.8 L763.1,455.4 L765.8,450.1 L769.3,435.8 L772.9,421.5 L776.5,410.7 L778.3,439.3 L780.1,400.0 L780.3,389.6 L783.6,376.2 L787.0,374.0 L790.3,371.7 L793.2,385.1 L794.8,403.0 L796.1,385.1 L797.0,349.4 L801.5,322.6 L804.3,313.6 L807.1,304.7 L810.4,282.3 L813.8,273.4 L814.5,280.0 L818.6,528.8 L823.0,280.0 L826.0,245.1 L830.6,238.4 L832.8,242.9 L833.9,400.0 L839.1,562.7 L842.7,400.0 L844.5,250.0 L845.1,227.3 L848.4,209.4 L849.5,300.0 L851.5,420.0 L853.2,555.6 L855.5,420.0 L857.5,300.0 L858.5,218.3 L861.8,220.6 L863.0,236.2 L865.2,218.3 L867.4,213.9 L869.7,216.1 L871.5,240.0 L872.5,409.0 L873.5,240.0 L875.3,231.7 L877.5,204.9 L879.7,198.2 L882.0,193.7 L883.0,300.0 L884.0,557.4 L885.0,300.0 L886.0,194.0 L888.7,195.9 L892.0,194.8 L895.4,193.7 L899.8,198.2 L903.2,201.6 L906.5,193.7 L909.9,191.1 L913.2,193.7 L916.6,222.8 L918.8,192.6 L922.1,192.6 L925.5,192.6 L927.8,196.0 L930.0,216.0 L931.1,270.0 L931.6,520.0 L931.6,575.5 L933.4,582.6 L937.9,589.8 L938.8,618.4 L941.5,621.0 L944.6,622.0 L947.7,622.9 L948.6,595.1 L950.4,595.1 L954.0,602.3 L957.5,603.6 L961.1,605.0 L963.8,607.2 L966.5,609.4 L967.4,614.8 L970.1,609.4 L972.8,608.1 L975.5,606.8 L979.0,609.4 L981.7,609.8 L984.4,610.3 L986.2,617.5 L988.9,618.4 L991.6,619.3 L994.6,620.5 L997.5,621.7 L1000.5,622.9 L1003.5,624.1 L1006.4,625.2 L1009.4,626.4 L1012.1,627.1 L1014.8,627.8 L1017.5,628.4 L1020.2,629.1 L1023.8,630.0 L1027.3,630.9 L1030.3,631.2 L1033.3,631.5 L1036.3,631.8 L1039.0,635.4 L1041.5,635.4 L1044.0,635.4 L1046.5,635.4 L1049.0,635.4 L1051.5,635.4 L1054.0,635.4 L1056.5,635.4 L1059.0,635.4 L1061.5,635.4 L1064.0,635.4 L1066.5,635.4 L1069.0,635.4 L1071.6,635.4 L1074.1,635.4 L1076.6,635.4 L1079.1,635.4 L1081.6,635.4 L1084.1,635.4 L1086.6,635.4 L1089.1,635.4 L1091.6,635.4 L1094.1,635.4 L1096.6,635.4 L1099.1,635.4 L1101.6,635.4 L1104.1,635.4 L1106.6,635.4 L1109.1,635.4 L1111.6,635.4 L1114.1,635.4 L1116.6,635.4 L1119.1,635.4 L1121.6,635.4 L1124.1,635.4 L1126.6,635.4 L1129.1,635.4 L1131.6,635.4 L1134.1,635.4 L1136.7,635.4 L1139.2,635.4 L1141.7,635.4 L1144.2,635.4 L1146.7,635.4 L1149.2,635.4 L1151.7,635.4 L1154.2,635.4 L1156.7,635.4 L1159.2,635.4 L1161.7,635.4 L1164.2,635.4 L1166.7,635.4 L1169.2,635.4 L1171.7,635.4 L1174.2,635.4 L1176.7,635.4 L1179.2,635.4 L1181.7,635.4 L1184.2,635.4 L1186.7,635.4 L1189.2,635.4 L1191.7,635.4 L1194.2,635.4 L1196.7,635.4 L1199.2,635.4 L1201.8,635.4 L1204.3,635.4 L1206.8,635.4 L1209.3,635.4 L1211.8,635.4 L1214.3,635.4 L1216.8,635.4 L1219.3,635.4 L1221.8,635.4 L1224.3,635.4 L1226.8,635.4 L1229.3,635.4 L1231.8,635.4 L1234.3,635.4 L1236.8,635.4 L1239.3,635.4 L1241.8,635.4 L1244.3,635.4 L1246.8,635.4 L1249.3,635.4 L1251.8,635.4 L1254.3,635.4 L1256.8,635.4 L1259.3,635.4 L1261.8,635.4 L1264.3,635.4 L1266.9,635.4 L1269.4,635.4 L1271.9,635.4 L1274.4,635.4 L1276.9,635.4 L1279.4,635.4 L1281.9,635.4 L1284.4,635.4 L1286.9,635.4 L1289.4,635.4 L1291.9,635.4 L1294.4,635.4 L1296.9,635.4 L1299.4,635.4 L1301.9,635.4 L1304.4,635.4 L1306.9,635.4 L1309.4,635.4 L1311.9,635.4 L1314.4,635.4 L1316.9,635.4 L1319.4,635.4 L1321.9,635.4 L1324.4,635.4 L1326.9,635.4 L1329.4,635.4 L1332.0,635.4 L1334.5,635.4 L1337.0,635.4 L1339.5,635.4 L1342.0,635.4 L1344.5,635.4 L1347.0,635.4 L1349.5,635.4 L1352.0,635.4 L1354.5,635.4 L1357.0,635.4 L1359.5,635.4 L1362.0,635.4 L1364.5,635.4 L1367.0,635.4 L1369.5,635.4 L1372.0,635.4 L1374.5,635.4 L1377.0,635.4 L1379.5,635.4 L1382.0,635.4 L1384.5,635.4 L1387.0,635.4 L1389.5,635.4 L1392.0,635.4 L1394.5,635.4 L1397.1,635.4 L1399.6,635.4 L1402.1,635.4 L1404.6,635.4 L1407.1,635.4 L1409.6,635.4 L1412.1,635.4 L1414.6,635.4 L1417.1,635.4 L1419.6,635.4 L1422.1,635.4 L1424.6,635.4 L1427.1,635.4 L1429.6,635.4 L1432.1,635.4 L1434.6,635.4 L1437.1,635.4 L1439.6,635.4 L1442.1,635.4 L1444.6,635.4 L1447.1,635.4 L1449.6,635.4 L1452.1,635.4 L1454.6,635.4 L1457.1,635.4 L1459.6,635.4 L1462.2,635.4 L1464.7,635.4 L1467.2,635.4 L1469.7,635.4 L1472.2,635.4 L1474.7,635.4 L1477.2,635.4 L1479.7,635.4 L1482.2,635.4 L1484.7,635.4 L1487.2,635.4 L1489.7,635.4 L1492.2,635.4 L1494.7,635.4 L1497.2,635.4 L1499.7,635.4 L1502.2,635.4 L1504.7,635.4 L1507.2,635.4 L1509.7,635.4 L1512.2,635.4 L1514.7,635.4 L1517.2,635.4 L1519.7,635.4 L1522.2,635.4 L1524.7,635.4 L1527.3,635.4 L1529.8,635.4 L1532.3,635.4 L1534.8,635.4 L1537.3,635.4 L1539.8,635.4 L1542.3,635.4 L1544.8,635.4 L1547.3,635.4 L1549.8,635.4 L1552.3,635.4 L1554.8,635.4 L1557.3,635.4 L1559.8,635.4 L1562.3,635.4 L1564.8,635.4 L1567.3,635.4 L1569.8,635.4 L1572.3,635.4 L1574.8,635.4 L1577.3,635.4 L1579.8,635.4 L1582.3,635.4 L1584.8,635.4 L1587.3,635.4 L1589.8,635.4 L1592.4,635.4 L1594.9,635.4 L1597.4,635.4 L1599.9,635.4 L1602.4,635.4 L1604.9,635.4 L1607.4,635.4 L1609.9,635.4 L1612.4,635.4 L1614.9,635.4 L1617.4,635.4 L1619.9,635.4 L1622.4,635.4 L1624.9,635.4 L1627.4,635.4 L1629.9,635.4 L1632.4,635.4 L1634.9,635.4 L1637.4,635.4 L1639.9,635.4 L1642.4,635.4 L1644.9,635.4 L1647.4,635.4 L1649.9,635.4 L1652.4,635.4 L1654.9,635.4 L1657.5,635.4 L1660.0,635.4 L1662.5,635.4 L1665.0,635.4 L1667.5,635.4 L1670.0,635.4 L1672.5,635.4 L1675.0,635.4 L1677.5,635.4 L1680.0,635.4 L1682.5,635.4 L1685.0,635.4 L1687.5,635.4 L1687.7,635.9 L1690.8,635.3 L1695.1,634.5 L1700.2,633.5 L1705.5,632.5 L1710.4,631.6 L1714.5,630.8 L1717.6,630.2 L1720.2,629.8 L1722.4,629.3 L1724.5,628.9 L1726.8,628.4 L1729.4,627.8 L1732.6,627.1 L1736.2,626.2 L1739.9,625.3 L1743.6,624.3 L1746.4,623.6 L1747.3,632.3 L1748.2,623.1 L1750.3,622.5 L1753.1,621.7 L1755.7,620.9 L1758.1,620.2 L1760.5,619.4 L1762.8,618.5 L1765.2,617.4 L1767.7,616.1 L1770.2,614.7 L1772.7,613.1 L1775.2,611.5 L1777.6,609.9 L1780.1,608.5 L1782.6,607.1 L1785.1,605.9 L1785.2,605.9 L1786.1,614.4 L1787.0,605.0 L1787.6,604.7 L1790.1,603.5 L1792.6,602.3 L1795.0,601.0 L1797.5,599.6 L1800.0,598.1 L1802.5,596.6 L1805.0,595.1 L1807.5,593.6 L1809.9,592.1 L1812.5,590.5 L1815.0,589.0 L1817.6,587.4 L1820.1,585.9 L1822.5,584.5 L1823.4,592.9 L1824.3,583.4 L1824.9,583.1 L1827.0,581.9 L1829.1,580.8 L1831.0,579.9 L1832.9,578.9 L1834.8,578.0 L1836.8,577.1 L1838.8,576.3 L1840.8,575.5 L1842.7,574.8 L1844.7,574.1 L1846.7,573.4 L1848.7,572.7 L1850.7,572.0 L1850.8,572.0 L1851.7,580.7 L1852.6,571.4 L1852.7,571.3 L1854.7,570.7 L1856.7,570.0 L1858.6,569.4 L1860.6,568.8 L1861.2,568.6 L1862.1,577.3 L1863.0,568.1 L1864.5,567.6 L1866.4,567.0 L1868.4,566.5 L1870.4,565.9 L1872.6,565.2 L1874.9,564.5 L1877.4,563.7 L1880.0,562.9 L1882.6,562.1 L1885.1,561.3 L1887.5,560.8 L1889.5,560.3 L1891.2,559.9 L1892.9,559.7 L1894.6,559.5 L1896.7,559.3 L1899.4,559.3 L1902.6,559.3 L1906.2,559.3 L1910.2,559.5 L1914.4,559.7 L1918.8,559.9 L1923.2,560.2 L1926.8,560.4 L1927.7,569.4 L1928.6,560.5 L1932.7,560.8 L1937.8,561.2 L1942.9,561.5 L1948.0,561.9 L1953.1,562.2 L1958.0,562.5 L1963.0,562.8 L1968.0,563.0 L1972.9,563.2 L1977.9,563.5 L1982.9,563.7 L1987.9,564.0 L1993.0,564.4 L1998.2,564.7 L2003.2,565.0 L2008.1,565.4 L2012.7,565.8 L2017.0,566.3 L2021.2,566.7 L2025.2,567.2 L2029.0,567.7 L2032.8,568.2 L2036.5,568.8 L2040.3,569.4 L2043.9,570.1 L2047.5,570.8 L2051.0,571.5 L2054.3,572.2 L2057.4,572.7 L2060.3,573.1 L2063.0,573.4 L2065.5,573.6 L2067.8,573.8 L2068.4,573.9 L2069.3,582.9 L2070.2,574.0 L2072.3,574.2 L2074.5,574.3 L2076.8,574.5 L2077.3,574.5 L2078.2,583.5 L2079.1,574.6 L2080.8,574.6 L2082.5,574.7 L2083.6,574.8 L2085.4,578.9 L2087.2,600.4 L2089.0,571.7 L2089.9,551.3 L2094.2,537.1 L2099.8,520.1 L2105.5,503.1 L2108.3,494.6 L2111.2,483.3 L2112.6,494.6 L2114.0,506.0 L2114.6,489.0 L2115.4,477.6 L2118.2,466.3 L2121.1,455.0 L2121.9,489.0 L2122.5,523.0 L2123.1,489.0 L2123.9,455.0 L2126.7,440.8 L2129.6,429.5 L2130.4,483.3 L2131.0,531.5 L2131.6,483.3 L2132.4,426.7 L2135.2,415.3 L2138.1,406.8 L2140.9,398.3 L2141.8,421.0 L2142.3,446.5 L2142.9,421.0 L2143.7,395.5 L2148.0,381.3 L2149.8,378.8 L2158.7,355.0 L2163.2,343.1 L2164.1,366.9 L2164.7,393.7 L2165.3,366.9 L2166.2,340.1 L2172.2,325.2 L2179.6,307.3 L2184.1,292.4 L2190.0,280.5 L2190.9,319.2 L2191.5,358.0 L2192.1,319.2 L2193.0,274.5 L2197.5,265.6 L2199.9,261.1 L2200.5,280.5 L2201.1,298.4 L2201.7,280.5 L2202.3,256.6 L2209.4,244.7 L2218.4,234.3 L2227.3,225.3 L2239.2,211.9 L2254.1,204.5 L2269.0,200.0 L2275.3,200.4 L2278.1,202.2 L2281.0,204.6 L2283.8,207.7 L2286.6,208.9 L2290.9,211.7 L2292.3,220.2 L2292.6,400.0 L2294.0,507.3 L2295.8,507.3 L2295.8,575.3 L2299.4,586.0 L2301.1,618.2 L2302.9,620.0 L2304.7,620.0 L2304.7,595.0 L2307.4,595.9 L2310.1,596.8 L2313.0,598.6 L2315.8,600.4 L2318.7,602.1 L2321.5,603.9 L2324.4,605.7 L2326.9,606.8 L2329.4,607.9 L2331.9,608.9 L2334.4,610.0 L2336.9,611.1 L2339.4,612.2 L2341.9,613.2 L2344.4,614.3 L2346.9,615.4 L2349.4,616.5 L2351.9,617.4 L2354.5,618.2 L2357.0,619.1 L2359.5,620.0 L2362.0,620.9 L2364.5,621.8 L2367.0,622.7 L2369.5,623.6 L2372.0,624.5 L2374.5,625.4 L2377.2,626.1 L2379.9,626.7 L2382.5,627.4 L2385.2,628.1 L2387.9,628.8 L2390.6,629.4 L2393.3,630.1 L2396.0,630.8 L2399.5,635.1 L2402.0,635.1 L2404.6,635.1 L2407.1,635.1 L2409.6,635.1 L2412.1,635.1 L2414.6,635.1 L2417.1,635.1 L2419.6,635.1 L2422.1,635.1 L2424.6,635.1 L2427.2,635.1 L2429.7,635.1 L2432.2,635.1 L2434.7,635.1 L2437.2,635.1 L2439.7,635.1 L2442.2,635.1 L2444.7,635.1 L2447.2,635.1 L2449.8,635.1 L2452.3,635.1 L2454.8,635.1 L2457.3,635.1 L2459.8,635.1 L2462.3,635.1 L2464.8,635.1 L2467.3,635.1 L2469.8,635.1 L2472.4,635.1 L2474.9,635.1 L2477.4,635.1 L2479.9,635.1 L2482.4,635.1 L2484.9,635.1 L2487.4,635.1 L2489.9,635.1 L2492.4,635.1 L2495.0,635.1 L2497.5,635.1 L2500.0,635.1 L2502.5,635.1 L2505.0,635.1 L2507.5,635.1 L2510.0,635.1 L2512.5,635.1 L2515.0,635.1 L2517.6,635.2 L2520.1,635.2 L2522.6,635.2 L2525.1,635.2 L2527.6,635.2 L2530.1,635.2 L2532.6,635.2 L2535.1,635.2 L2537.6,635.2 L2540.1,635.2 L2542.7,635.2 L2545.2,635.2 L2547.7,635.2 L2550.2,635.2 L2552.7,635.2 L2555.2,635.2 L2557.7,635.2 L2560.2,635.2 L2562.7,635.2 L2565.3,635.2 L2567.8,635.2 L2570.3,635.2 L2572.8,635.2 L2575.3,635.2 L2577.8,635.2 L2580.3,635.2 L2582.8,635.2 L2585.3,635.2 L2587.9,635.2 L2590.4,635.2 L2592.9,635.2 L2595.4,635.2 L2597.9,635.2 L2600.4,635.2 L2602.9,635.2 L2605.4,635.2 L2607.9,635.2 L2610.5,635.2 L2613.0,635.2 L2615.5,635.2 L2618.0,635.2 L2620.5,635.2 L2623.0,635.2 L2625.5,635.2 L2628.0,635.2 L2630.5,635.2 L2633.1,635.2 L2635.6,635.2 L2638.1,635.2 L2640.6,635.2 L2643.1,635.2 L2645.6,635.2 L2648.1,635.2 L2650.6,635.3 L2653.1,635.3 L2655.7,635.3 L2658.2,635.3 L2660.7,635.3 L2663.2,635.3 L2665.7,635.3 L2668.2,635.3 L2670.7,635.3 L2673.2,635.3 L2675.7,635.3 L2678.3,635.3 L2680.8,635.3 L2683.3,635.3 L2685.8,635.3 L2688.3,635.3 L2690.8,635.3 L2693.3,635.3 L2695.8,635.3 L2698.3,635.3 L2700.9,635.3 L2703.4,635.3 L2705.9,635.3 L2708.4,635.3 L2710.9,635.3 L2713.4,635.3 L2715.9,635.3 L2718.4,635.3 L2720.9,635.3 L2723.5,635.3 L2726.0,635.3 L2728.5,635.3 L2731.0,635.3 L2733.5,635.3 L2736.0,635.3 L2738.5,635.3 L2741.0,635.3 L2743.5,635.3 L2746.0,635.3 L2748.6,635.3 L2751.1,635.3 L2753.6,635.3 L2756.1,635.3 L2758.6,635.3 L2761.1,635.3 L2763.6,635.3 L2766.1,635.3 L2768.6,635.3 L2771.2,635.3 L2773.7,635.3 L2776.2,635.3 L2778.7,635.3 L2781.2,635.3 L2783.7,635.4 L2786.2,635.4 L2788.7,635.4 L2791.2,635.4 L2793.8,635.4 L2796.3,635.4 L2798.8,635.4 L2801.3,635.4 L2803.8,635.4 L2806.3,635.4 L2808.8,635.4 L2811.3,635.4 L2813.8,635.4 L2816.4,635.4 L2818.9,635.4 L2821.4,635.4 L2823.9,635.4 L2826.4,635.4 L2828.9,635.4 L2831.4,635.4 L2833.9,635.4 L2836.4,635.4 L2839.0,635.4 L2841.5,635.4 L2844.0,635.4 L2846.5,635.4 L2849.0,635.4 L2849.0,636.3 L127.0,636.3 Z" fill="#73BF69" fill-opacity="0.1" stroke="none"/><path d="M127.0,635.4 L130.0,635.4 L133.0,635.4 L136.0,635.4 L139.0,635.4 L142.0,635.4 L145.0,635.4 L148.0,635.4 L151.0,635.4 L154.0,635.4 L157.0,635.4 L160.0,635.4 L163.0,635.4 L166.0,635.4 L169.0,635.4 L172.0,635.4 L175.0,635.4 L178.0,635.4 L181.0,635.4 L184.0,635.4 L187.0,635.4 L190.0,635.4 L193.0,635.4 L196.0,635.4 L199.0,635.4 L202.0,635.4 L205.0,635.4 L208.0,635.4 L211.0,635.4 L214.0,635.4 L217.0,635.4 L220.0,635.4 L223.0,635.4 L226.0,635.4 L229.0,635.4 L232.0,635.4 L235.0,635.4 L238.0,635.4 L241.0,635.4 L244.0,635.4 L247.0,635.4 L250.0,635.4 L253.0,635.4 L256.0,635.4 L259.0,635.4 L262.0,635.4 L265.0,635.4 L268.0,635.4 L271.0,635.4 L274.0,635.4 L277.0,635.4 L280.0,635.4 L283.0,635.4 L286.0,635.4 L289.0,635.4 L292.0,635.4 L295.0,635.4 L298.0,635.4 L301.0,635.4 L304.0,635.4 L307.0,635.4 L310.0,635.4 L313.0,635.4 L316.0,635.4 L319.0,635.4 L322.0,635.4 L325.0,635.4 L328.0,635.4 L331.0,635.4 L334.0,635.4 L337.0,635.4 L340.0,635.4 L343.0,635.4 L346.0,635.4 L349.0,635.4 L352.0,635.4 L355.0,635.4 L358.0,635.4 L361.0,635.4 L364.0,635.4 L367.0,635.4 L370.0,635.4 L373.0,635.4 L376.0,635.4 L379.0,635.4 L382.0,635.4 L385.0,635.4 L388.0,635.4 L391.0,635.4 L394.0,635.4 L397.0,635.4 L400.0,635.4 L403.0,635.4 L406.0,635.4 L409.0,635.4 L412.0,635.4 L415.0,635.4 L418.0,635.4 L421.0,635.4 L424.0,635.4 L427.0,635.4 L430.0,635.4 L433.0,635.4 L437.7,617.7 L440.8,617.5 L443.9,617.3 L447.1,617.1 L450.2,615.2 L453.3,613.4 L456.4,611.5 L459.6,610.4 L462.7,609.4 L465.8,608.3 L469.0,606.8 L472.1,605.2 L475.2,603.7 L478.3,602.6 L481.5,601.6 L484.6,600.5 L487.7,597.9 L490.9,595.3 L494.0,592.7 L497.1,590.6 L500.3,588.5 L503.4,586.4 L506.5,583.3 L509.6,580.2 L512.8,577.1 L515.9,575.8 L519.0,574.6 L522.2,571.9 L525.3,569.2 L528.4,568.5 L531.5,567.7 L535.8,565.3 L540.0,563.0 L543.4,555.9 L546.4,555.8 L549.4,555.7 L552.4,556.0 L555.4,555.6 L558.4,555.9 L561.5,555.8 L564.5,555.6 L567.5,555.9 L570.5,555.6 L573.5,555.8 L576.5,555.6 L579.5,555.6 L582.5,555.8 L585.5,556.1 L588.5,555.6 L591.5,555.7 L594.5,555.9 L597.6,556.2 L600.6,555.9 L603.6,555.8 L606.6,556.2 L609.6,555.5 L612.6,556.1 L615.6,555.7 L618.6,555.6 L621.6,555.6 L624.6,555.7 L627.6,556.0 L630.6,555.6 L633.6,555.9 L636.7,555.9 L639.7,555.7 L642.7,555.8 L645.7,555.5 L648.7,555.5 L651.7,555.6 L654.7,555.9 L657.7,555.7 L660.7,555.6 L663.7,555.8 L666.7,555.7 L669.7,555.6 L672.8,556.0 L675.8,555.9 L678.8,555.6 L681.8,555.8 L684.8,555.8 L687.8,556.0 L690.8,555.9 L693.8,555.6 L696.8,556.1 L699.8,555.5 L702.8,555.7 L705.8,555.9 L708.9,555.5 L711.9,555.7 L714.9,555.4 L717.9,555.8 L720.9,555.9 L723.9,555.7 L726.9,555.9 L729.9,555.5 L732.9,555.8 L735.9,555.7 L738.9,555.7 L741.9,555.6 L744.9,555.9 L748.0,556.0 L751.0,555.6 L754.0,555.8 L757.0,555.3 L760.0,555.8 L763.0,555.7 L766.0,556.0 L769.0,555.9 L772.0,555.5 L775.0,555.5 L778.0,555.7 L781.0,555.3 L784.1,555.6 L787.1,555.4 L790.1,555.3 L793.1,555.3 L796.1,555.8 L799.1,555.3 L802.1,555.4 L805.1,555.5 L808.1,555.8 L811.1,555.3 L814.1,555.5 L817.1,555.6 L820.1,555.8 L823.2,555.8 L826.2,555.8 L829.2,555.4 L832.2,555.5 L835.2,555.4 L838.2,555.8 L841.2,555.9 L844.2,555.3 L847.2,555.3 L850.2,555.3 L853.2,555.3 L856.2,555.5 L859.3,555.6 L862.3,555.3 L865.3,555.2 L868.3,555.4 L871.3,555.4 L874.3,555.5 L877.3,555.8 L880.3,555.6 L883.3,555.5 L886.3,555.6 L889.3,555.6 L892.3,555.2 L895.3,555.7 L898.4,555.7 L901.4,555.7 L904.4,555.7 L907.4,555.4 L910.4,555.4 L913.4,555.2 L916.4,555.5 L919.4,555.1 L922.4,555.1 L925.4,555.2 L928.4,555.2 L931.4,555.3 L934.5,555.1 L937.5,555.1 L940.5,555.2 L943.5,555.1 L946.5,555.3 L949.5,555.1 L952.5,555.7 L955.5,555.5 L958.5,555.1 L961.5,555.2 L964.5,555.3 L967.5,555.3 L970.6,555.1 L973.6,555.6 L976.6,555.7 L979.6,555.3 L982.6,555.3 L985.6,555.1 L988.6,555.1 L991.6,555.2 L994.6,555.2 L997.6,555.6 L1000.6,555.1 L1003.6,555.0 L1006.6,555.6 L1009.7,555.3 L1012.7,555.1 L1015.7,555.3 L1018.7,555.0 L1021.7,555.3 L1024.7,555.6 L1027.7,555.5 L1030.7,555.4 L1033.7,555.1 L1036.7,555.2 L1039.7,555.0 L1042.7,555.5 L1045.8,555.3 L1048.8,555.5 L1051.8,555.1 L1054.8,555.1 L1057.8,555.5 L1060.8,555.6 L1063.8,555.5 L1066.8,555.5 L1069.8,555.5 L1072.8,555.4 L1075.8,555.0 L1078.8,555.2 L1081.8,555.1 L1084.9,554.9 L1087.9,554.9 L1090.9,555.1 L1093.9,555.0 L1096.9,555.3 L1099.9,555.5 L1102.9,555.2 L1105.9,555.5 L1108.9,555.5 L1111.9,555.5 L1114.9,555.1 L1117.9,555.0 L1121.0,555.0 L1124.0,555.0 L1127.0,555.0 L1130.0,555.2 L1133.0,555.4 L1136.0,555.4 L1139.0,555.1 L1142.0,555.2 L1145.0,555.3 L1148.0,554.8 L1151.0,555.2 L1154.0,555.4 L1157.1,555.3 L1160.1,555.3 L1163.1,555.1 L1166.1,554.9 L1169.1,555.3 L1172.1,555.0 L1175.1,555.3 L1178.1,555.4 L1181.1,555.0 L1184.1,555.0 L1187.1,555.4 L1190.1,555.2 L1193.1,554.8 L1196.2,554.8 L1199.2,554.8 L1202.2,555.3 L1205.2,555.3 L1208.2,554.8 L1211.2,555.3 L1214.2,555.4 L1217.2,555.2 L1220.2,554.9 L1223.2,555.1 L1226.2,554.8 L1229.2,554.7 L1232.3,555.4 L1235.3,555.1 L1238.3,555.0 L1241.3,555.3 L1244.3,555.0 L1247.3,555.3 L1250.3,555.0 L1252.4,554.9 L1252.5,556.5 L1252.7,558.7 L1253.1,561.3 L1253.8,563.8 L1254.9,566.3 L1256.3,569.0 L1258.0,571.6 L1259.8,574.3 L1261.8,576.9 L1264.0,579.5 L1266.3,582.1 L1268.7,584.7 L1271.1,587.3 L1273.7,589.9 L1276.3,592.5 L1279.2,595.1 L1282.3,597.8 L1285.6,600.5 L1289.1,603.2 L1292.6,605.6 L1296.2,607.7 L1300.0,609.7 L1303.7,611.4 L1307.5,613.0 L1311.4,614.4 L1315.4,615.6 L1319.2,616.6 L1322.4,617.5 L1324.6,618.2 L1326.2,618.6 L1327.8,619.1 L1330.0,619.7 L1333.0,620.6 L1336.5,621.7 L1340.5,622.8 L1345.0,624.0 L1350.4,625.2 L1356.5,626.6 L1362.7,627.9 L1368.3,629.0 L1373.0,629.9 L1377.2,630.7 L1381.1,631.3 L1385.0,632.0 L1388.9,632.7 L1392.8,633.4 L1396.5,634.0 L1400.0,634.5 L1403.5,634.8 L1406.9,635.1 L1409.9,635.2 L1412.0,635.3 L1417.7,635.2 L1420.7,635.2 L1423.7,635.2 L1426.7,635.2 L1429.7,635.2 L1432.7,635.2 L1435.7,635.2 L1438.7,635.2 L1441.7,635.2 L1444.7,635.2 L1447.7,635.2 L1450.7,635.2 L1453.7,635.2 L1456.7,635.2 L1459.7,635.2 L1462.8,635.2 L1465.8,635.2 L1468.8,635.2 L1471.8,635.2 L1474.8,635.2 L1477.8,635.2 L1480.8,635.2 L1483.8,635.2 L1486.8,635.2 L1489.8,635.2 L1492.8,635.2 L1495.8,635.2 L1498.8,635.2 L1501.8,635.2 L1504.8,635.2 L1507.8,635.2 L1510.8,635.2 L1513.8,635.2 L1516.8,635.2 L1519.8,635.2 L1522.8,635.2 L1525.8,635.2 L1528.8,635.2 L1531.8,635.3 L1534.8,635.3 L1537.8,635.3 L1540.8,635.3 L1543.8,635.3 L1546.8,635.3 L1549.8,635.3 L1552.8,635.3 L1555.8,635.3 L1558.8,635.3 L1561.8,635.3 L1564.8,635.3 L1567.8,635.3 L1570.8,635.3 L1573.8,635.3 L1576.8,635.3 L1579.8,635.3 L1582.8,635.3 L1585.9,635.3 L1588.9,635.3 L1591.9,635.3 L1594.9,635.3 L1597.9,635.3 L1600.9,635.3 L1603.9,635.3 L1606.9,635.3 L1609.9,635.3 L1612.9,635.3 L1615.9,635.3 L1618.9,635.3 L1621.9,635.3 L1624.9,635.3 L1627.9,635.3 L1630.9,635.3 L1633.9,635.3 L1636.9,635.3 L1639.9,635.3 L1642.9,635.3 L1645.9,635.3 L1648.9,635.3 L1651.9,635.3 L1654.9,635.3 L1657.9,635.3 L1660.9,635.3 L1663.9,635.3 L1666.9,635.3 L1669.9,635.3 L1672.9,635.3 L1675.9,635.3 L1678.9,635.3 L1681.9,635.3 L1684.9,635.3 L1687.9,635.4 L1690.9,635.4 L1693.9,635.4 L1696.9,635.4 L1699.9,635.4 L1702.9,635.4 L1706.0,635.4 L1709.0,635.4 L1712.0,635.4 L1715.0,635.4 L1718.0,635.4 L1721.0,635.4 L1724.0,635.4 L1727.0,635.4 L1730.0,635.4 L1733.0,635.4 L1736.0,635.4 L1739.0,635.4 L1742.0,635.4 L1745.0,635.4 L1748.0,635.4 L1751.0,635.4 L1754.0,635.4 L1757.0,635.4 L1760.0,635.4 L1763.0,635.4 L1766.0,635.4 L1768.2,636.5 L1769.5,634.9 L1771.2,632.6 L1773.2,629.9 L1775.5,627.1 L1777.8,624.3 L1780.1,621.9 L1782.4,619.7 L1784.9,617.6 L1787.4,615.6 L1790.0,613.6 L1792.5,611.7 L1795.0,609.9 L1797.5,608.3 L1800.0,606.7 L1802.5,605.3 L1805.0,603.9 L1807.5,602.5 L1809.9,601.0 L1812.5,599.5 L1815.0,597.9 L1817.6,596.4 L1820.1,594.9 L1822.5,593.4 L1824.9,592.1 L1827.0,590.8 L1829.1,589.6 L1831.0,588.6 L1832.9,587.5 L1834.8,586.5 L1836.8,585.5 L1838.8,584.5 L1840.8,583.6 L1842.7,582.7 L1844.7,581.8 L1846.7,581.0 L1848.7,580.1 L1850.7,579.3 L1852.7,578.6 L1854.7,577.8 L1856.7,577.1 L1858.6,576.4 L1860.6,575.7 L1862.6,574.9 L1864.5,574.2 L1866.4,573.5 L1868.4,572.8 L1870.4,572.0 L1872.6,571.2 L1874.9,570.2 L1877.4,569.2 L1880.0,568.1 L1882.6,567.0 L1885.1,566.0 L1887.5,565.2 L1889.5,564.6 L1891.2,564.1 L1892.9,563.7 L1894.6,563.3 L1896.7,563.1 L1899.4,562.8 L1902.6,562.7 L1906.2,562.6 L1910.2,562.6 L1914.4,562.6 L1918.8,562.7 L1923.2,562.8 L1927.9,563.0 L1932.7,563.3 L1937.8,563.6 L1942.9,563.9 L1948.0,564.3 L1953.1,564.6 L1958.0,565.0 L1963.0,565.3 L1968.0,565.6 L1972.9,566.0 L1977.9,566.3 L1982.9,566.7 L1987.9,567.1 L1993.0,567.4 L1998.2,567.8 L2003.2,568.2 L2008.1,568.6 L2012.7,569.1 L2017.0,569.6 L2021.2,570.2 L2025.2,570.9 L2029.0,571.5 L2032.8,572.1 L2036.5,572.7 L2040.1,573.2 L2043.5,573.7 L2046.8,574.3 L2050.2,574.8 L2053.7,575.2 L2057.4,575.7 L2061.8,576.1 L2066.7,576.5 L2071.8,576.9 L2076.6,577.2 L2080.7,577.5 L2083.6,577.7 L2085.4,577.8 L2089.0,568.2 L2092.6,554.6 L2095.6,554.8 L2098.6,554.4 L2101.6,554.4 L2104.6,554.4 L2107.6,554.4 L2110.6,554.6 L2113.6,554.4 L2116.6,554.5 L2119.6,554.3 L2122.6,554.9 L2125.6,554.5 L2128.6,554.5 L2131.6,554.6 L2134.6,554.8 L2137.6,554.5 L2140.7,554.9 L2143.7,554.6 L2146.7,554.6 L2149.7,554.6 L2152.7,554.2 L2155.7,554.5 L2158.7,554.3 L2161.7,554.2 L2164.7,554.8 L2167.7,554.3 L2170.7,554.5 L2173.7,554.7 L2176.7,554.6 L2179.7,554.4 L2182.7,554.6 L2185.7,554.6 L2188.8,554.8 L2191.8,554.3 L2194.8,554.6 L2197.8,554.4 L2200.8,554.4 L2203.8,554.8 L2206.8,554.6 L2209.8,554.6 L2212.8,554.8 L2215.8,554.9 L2218.8,554.5 L2221.8,554.6 L2224.8,554.6 L2227.8,554.6 L2230.8,554.7 L2233.8,554.5 L2236.9,554.6 L2239.9,554.6 L2242.9,554.9 L2245.9,554.7 L2248.9,554.8 L2251.9,554.9 L2254.9,554.4 L2257.9,554.6 L2260.9,554.9 L2263.9,554.8 L2266.9,554.3 L2269.9,554.3 L2272.9,554.5 L2275.9,554.3 L2278.9,554.4 L2281.9,554.3 L2284.9,554.7 L2288.0,554.8 L2291.0,554.9 L2294.0,554.3 L2297.0,554.7 L2300.0,554.7 L2303.0,554.3 L2306.0,554.8 L2309.0,554.9 L2312.0,554.4 L2315.0,554.9 L2318.0,554.5 L2321.0,554.6 L2324.0,554.9 L2327.0,554.8 L2330.0,554.3 L2333.0,554.5 L2336.1,554.6 L2339.1,554.5 L2342.1,554.4 L2345.1,554.4 L2348.1,554.7 L2351.1,554.2 L2354.1,554.6 L2357.1,554.5 L2360.1,554.2 L2363.1,554.5 L2366.1,554.7 L2369.1,554.6 L2372.1,554.3 L2375.1,554.9 L2378.1,554.8 L2381.1,554.9 L2384.2,554.3 L2387.2,554.4 L2390.2,554.3 L2393.2,554.8 L2396.2,554.4 L2399.2,554.3 L2402.2,554.5 L2405.2,554.9 L2408.2,554.8 L2411.2,554.4 L2414.2,554.3 L2417.2,554.9 L2420.2,554.6 L2423.2,554.7 L2426.2,554.3 L2429.2,554.3 L2432.2,554.7 L2435.3,554.5 L2438.3,554.3 L2441.3,554.9 L2444.3,554.7 L2447.3,554.8 L2450.3,554.3 L2453.3,554.8 L2456.3,554.3 L2459.3,554.8 L2462.3,554.5 L2465.3,554.5 L2468.3,554.6 L2471.3,554.9 L2474.3,554.4 L2477.3,554.3 L2480.3,554.6 L2483.4,554.4 L2486.4,554.3 L2489.4,554.3 L2492.4,554.3 L2495.4,554.4 L2498.4,554.5 L2501.4,554.4 L2504.4,554.8 L2507.4,554.4 L2510.4,554.6 L2513.4,554.4 L2516.4,554.5 L2519.4,554.2 L2522.4,554.4 L2525.4,554.2 L2528.4,554.7 L2531.5,554.6 L2534.5,554.4 L2537.5,554.6 L2540.5,554.9 L2543.5,554.3 L2546.5,554.8 L2549.5,554.5 L2552.5,554.6 L2555.5,554.8 L2558.5,554.5 L2561.5,554.6 L2564.5,554.7 L2567.5,554.9 L2570.5,554.5 L2573.5,554.8 L2576.5,554.7 L2579.5,554.7 L2582.6,554.5 L2585.6,554.5 L2588.6,554.3 L2591.6,554.3 L2594.6,554.3 L2597.6,554.8 L2600.6,554.4 L2603.6,554.4 L2606.6,554.3 L2609.6,554.8 L2612.6,554.8 L2615.6,554.7 L2618.6,554.4 L2621.6,554.4 L2624.6,554.4 L2627.6,554.6 L2630.7,554.4 L2633.7,554.6 L2636.7,554.4 L2639.7,554.9 L2642.7,554.9 L2645.7,554.6 L2648.7,554.4 L2651.7,554.9 L2654.7,554.5 L2657.7,554.5 L2660.7,554.2 L2663.7,554.5 L2666.7,554.6 L2669.7,554.6 L2672.7,554.4 L2675.7,554.6 L2678.7,554.2 L2681.8,554.4 L2684.8,554.3 L2687.8,554.5 L2690.8,554.3 L2693.8,554.3 L2696.8,554.5 L2699.8,554.4 L2702.8,554.7 L2705.8,554.6 L2708.8,554.8 L2711.8,554.7 L2714.8,554.7 L2717.8,554.9 L2720.8,554.5 L2723.8,554.5 L2726.8,554.9 L2729.9,554.4 L2732.9,554.8 L2735.9,554.7 L2738.9,554.3 L2741.9,554.8 L2744.9,554.9 L2747.9,554.7 L2750.9,554.8 L2753.9,554.8 L2756.9,554.3 L2759.9,554.6 L2762.9,554.6 L2765.9,554.8 L2768.9,554.8 L2771.9,554.8 L2774.9,554.7 L2778.0,554.9 L2781.0,554.7 L2784.0,554.7 L2787.0,554.4 L2790.0,554.3 L2793.0,554.3 L2796.0,554.5 L2799.0,554.3 L2802.9,554.8 L2803.1,556.2 L2803.4,558.3 L2803.8,560.6 L2804.4,562.9 L2805.1,565.0 L2805.9,567.2 L2806.9,569.5 L2808.3,571.9 L2810.1,574.5 L2812.3,577.3 L2814.7,580.0 L2817.2,582.6 L2819.8,585.0 L2822.5,587.4 L2825.3,589.6 L2828.0,591.6 L2830.7,593.4 L2833.3,595.0 L2836.0,596.5 L2838.7,597.8 L2841.6,599.0 L2844.8,600.2 L2847.6,601.1 L2849.5,601.8" fill="none" stroke="#B877D9" stroke-width="3.9" stroke-linejoin="round" stroke-linecap="butt"/><path d="M127.0,635.4 L129.5,635.4 L132.0,635.4 L134.5,635.4 L137.0,635.4 L139.5,635.4 L142.0,635.4 L144.6,635.4 L147.1,635.4 L149.6,635.4 L152.1,635.4 L154.6,635.4 L157.1,635.4 L159.6,635.4 L162.1,635.4 L164.6,635.4 L167.1,635.4 L169.6,635.4 L172.1,635.4 L174.7,635.4 L177.2,635.4 L179.7,635.4 L182.2,635.4 L184.7,635.4 L187.2,635.4 L189.7,635.4 L192.2,635.4 L194.7,635.4 L197.2,635.4 L199.7,635.4 L202.2,635.4 L204.8,635.4 L207.3,635.4 L209.8,635.4 L212.3,635.4 L214.8,635.4 L217.3,635.4 L219.8,635.4 L222.3,635.4 L224.8,635.4 L227.3,635.4 L229.8,635.4 L232.3,635.4 L234.9,635.4 L237.4,635.4 L239.9,635.4 L242.4,635.4 L244.9,635.4 L247.4,635.4 L249.9,635.4 L252.4,635.4 L254.9,635.4 L257.4,635.4 L259.9,635.4 L262.4,635.4 L265.0,635.4 L267.5,635.4 L270.0,635.4 L272.5,635.4 L275.0,635.4 L277.5,635.4 L280.0,635.4 L282.5,635.4 L285.0,635.4 L287.5,635.4 L290.0,635.4 L292.5,635.4 L295.0,635.4 L297.6,635.4 L300.1,635.4 L302.6,635.4 L305.1,635.4 L307.6,635.4 L310.1,635.4 L312.6,635.4 L315.1,635.4 L317.6,635.4 L320.1,635.4 L322.6,635.4 L325.1,635.4 L327.7,635.4 L330.2,635.4 L332.7,635.4 L335.2,635.4 L337.7,635.4 L340.2,635.4 L342.7,635.4 L345.2,635.4 L347.7,635.4 L350.2,635.4 L352.7,635.4 L355.2,635.4 L357.8,635.4 L360.3,635.4 L362.8,635.4 L365.3,635.4 L367.8,635.4 L370.3,635.4 L372.8,635.4 L375.3,635.4 L377.8,635.4 L380.3,635.4 L382.8,635.4 L385.3,635.4 L387.9,635.4 L390.4,635.4 L392.9,635.4 L395.4,635.4 L397.9,635.4 L400.4,635.4 L402.9,635.4 L405.4,635.4 L407.9,635.4 L410.4,635.4 L412.9,635.4 L415.4,635.4 L418.0,635.4 L420.5,635.4 L423.0,635.4 L425.5,635.4 L428.0,635.4 L430.5,635.4 L433.0,635.4 L437.7,620.9 L440.8,622.4 L443.9,624.0 L447.1,625.6 L450.2,622.4 L453.3,619.3 L456.4,616.2 L459.6,615.4 L462.7,614.6 L465.8,611.5 L469.0,608.3 L471.5,606.8 L474.0,605.2 L476.5,603.7 L479.0,602.1 L481.5,600.5 L484.0,599.6 L486.5,598.6 L489.0,597.7 L491.5,596.8 L494.0,595.8 L496.5,594.3 L499.0,592.7 L501.5,591.1 L504.0,589.6 L506.5,588.0 L509.6,585.7 L512.8,583.3 L515.9,581.0 L519.0,578.6 L522.2,592.7 L525.3,577.1 L528.4,575.5 L531.5,573.9 L534.4,572.9 L537.2,571.8 L540.0,570.8 L544.5,563.7 L547.4,564.0 L550.3,564.3 L553.2,564.4 L556.1,564.7 L559.1,564.0 L560.2,592.8 L561.3,564.0 L563.8,564.4 L566.3,564.7 L568.8,563.1 L571.3,563.9 L573.9,564.8 L576.4,564.2 L578.9,564.7 L581.4,563.3 L583.9,563.9 L586.4,563.5 L588.9,564.0 L591.5,564.1 L594.0,563.1 L596.5,563.5 L599.0,563.6 L601.5,564.7 L604.0,564.4 L606.5,563.4 L609.1,564.5 L611.6,563.3 L614.1,564.2 L616.6,563.3 L619.1,563.1 L621.6,564.0 L622.7,595.0 L623.9,564.0 L626.4,564.6 L628.9,563.4 L631.4,563.5 L633.9,564.8 L636.4,564.6 L638.9,563.6 L641.5,564.8 L644.0,564.0 L646.5,564.3 L649.0,563.4 L651.5,564.8 L654.0,564.0 L655.1,579.4 L656.3,564.0 L659.1,564.3 L661.8,564.8 L664.6,564.7 L667.4,563.6 L670.2,563.7 L673.0,563.4 L675.8,563.3 L678.6,564.0 L679.7,588.3 L680.8,564.0 L684.2,563.2 L687.5,564.0 L689.1,588.3 L690.9,588.3 L692.7,564.0 L694.2,564.0 L695.4,579.4 L696.5,564.0 L699.1,563.6 L701.7,564.2 L704.3,563.1 L706.9,564.3 L709.5,563.7 L712.1,564.0 L713.2,583.9 L714.4,564.0 L717.1,563.6 L719.8,564.5 L722.5,563.9 L725.2,563.6 L727.9,563.9 L730.6,564.3 L733.4,564.0 L734.5,588.3 L735.6,564.0 L738.1,563.2 L740.6,564.8 L743.1,563.1 L745.6,564.4 L748.1,564.6 L750.6,563.1 L753.1,564.5 L755.6,563.7 L758.1,564.1 L760.6,563.1 L763.1,563.1 L765.6,563.4 L768.1,564.8 L770.6,563.4 L773.2,564.4 L775.7,564.7 L778.2,564.8 L780.7,563.7 L783.2,563.7 L785.7,564.0 L788.2,564.5 L790.7,563.3 L793.2,564.4 L795.7,564.5 L798.2,564.6 L800.7,563.1 L803.2,564.8 L805.7,563.2 L808.2,563.7 L810.7,564.2 L813.2,564.7 L815.7,563.7 L818.2,564.7 L820.7,564.0 L823.2,563.6 L825.7,563.6 L828.3,563.4 L830.8,563.2 L833.3,563.3 L835.8,564.3 L838.3,564.8 L840.8,563.3 L843.3,563.1 L845.8,564.8 L848.3,564.0 L850.8,563.8 L853.3,563.5 L855.8,564.1 L858.3,564.5 L860.8,563.9 L863.3,563.8 L865.8,563.1 L868.3,564.7 L870.8,563.1 L873.3,563.9 L875.8,564.6 L878.3,563.3 L880.8,564.4 L883.3,564.8 L885.9,564.2 L888.4,564.5 L890.9,563.2 L893.4,563.8 L895.9,563.3 L898.4,564.6 L900.9,563.6 L903.4,563.9 L905.9,564.8 L908.4,564.6 L910.9,564.8 L913.4,563.9 L915.9,563.9 L918.4,564.4 L920.9,563.9 L923.4,563.6 L925.9,563.8 L928.4,563.3 L930.9,563.7 L933.4,564.8 L935.9,564.8 L938.4,564.2 L941.0,563.9 L943.5,563.6 L946.0,563.2 L948.5,563.5 L951.0,564.4 L953.5,564.6 L956.0,563.7 L958.5,564.5 L961.0,564.4 L963.5,564.3 L966.0,564.2 L968.5,564.4 L971.0,563.7 L973.5,564.3 L976.0,563.5 L978.5,563.9 L981.0,564.4 L983.5,564.3 L986.0,563.6 L988.5,564.7 L991.0,564.2 L993.5,564.1 L996.0,563.1 L998.6,564.0 L1001.1,563.5 L1003.6,564.2 L1006.1,563.9 L1008.6,564.5 L1011.1,564.2 L1013.6,564.5 L1016.1,563.7 L1018.6,564.2 L1021.1,564.4 L1023.6,564.5 L1026.1,563.7 L1028.6,564.5 L1031.1,564.6 L1033.6,564.3 L1036.1,564.8 L1038.6,564.7 L1041.1,564.0 L1043.6,564.0 L1046.1,563.3 L1048.6,564.5 L1051.1,564.7 L1053.6,563.9 L1056.2,564.3 L1058.7,564.3 L1061.2,564.3 L1063.7,563.3 L1066.2,564.4 L1068.7,564.1 L1071.2,564.2 L1073.7,563.8 L1076.2,564.1 L1078.7,564.4 L1081.2,564.2 L1083.7,564.3 L1086.2,563.1 L1088.7,563.3 L1091.2,563.8 L1093.7,564.2 L1096.2,563.4 L1098.7,564.3 L1101.2,564.2 L1103.7,563.1 L1106.2,563.9 L1108.7,563.4 L1111.3,563.1 L1113.8,563.3 L1116.3,563.6 L1118.8,563.3 L1121.3,563.4 L1123.8,563.1 L1126.3,563.9 L1128.8,563.7 L1131.3,564.1 L1133.8,564.1 L1136.3,563.4 L1138.8,564.6 L1141.3,563.0 L1143.8,563.7 L1146.3,563.5 L1148.8,563.8 L1151.3,563.2 L1153.8,564.5 L1156.3,563.7 L1158.8,563.1 L1161.3,564.1 L1163.8,563.2 L1166.3,564.0 L1168.9,563.6 L1171.4,564.1 L1173.9,564.7 L1176.4,564.5 L1178.9,563.8 L1181.4,564.5 L1183.9,564.2 L1186.4,563.7 L1188.9,563.3 L1191.4,564.1 L1193.9,564.0 L1196.4,564.7 L1198.9,564.7 L1201.4,564.1 L1203.9,563.6 L1206.4,564.6 L1208.9,563.0 L1211.4,563.2 L1213.9,564.0 L1216.4,564.1 L1218.9,563.3 L1221.4,564.1 L1224.0,564.6 L1226.5,563.7 L1229.0,563.8 L1231.5,563.4 L1234.0,563.5 L1236.5,564.8 L1239.0,563.7 L1241.5,564.7 L1244.0,564.6 L1246.5,564.1 L1249.0,563.5 L1251.6,563.8 L1251.7,564.8 L1251.9,566.2 L1252.3,568.0 L1253.1,569.8 L1254.4,571.8 L1256.0,574.0 L1257.8,576.3 L1259.8,578.7 L1261.8,581.2 L1264.0,583.9 L1266.3,586.5 L1268.7,589.2 L1271.1,591.8 L1273.7,594.4 L1276.3,597.0 L1279.2,599.6 L1282.3,602.3 L1285.6,605.0 L1289.1,607.6 L1292.6,610.0 L1296.2,612.1 L1300.0,614.1 L1303.7,615.9 L1307.5,617.5 L1311.4,618.9 L1315.4,620.1 L1319.2,621.2 L1322.4,622.0 L1324.6,622.5 L1326.2,622.8 L1327.8,623.1 L1330.0,623.5 L1333.2,624.2 L1337.0,625.1 L1341.0,626.1 L1345.0,627.0 L1348.9,628.0 L1352.9,629.0 L1356.9,629.9 L1361.2,630.8 L1365.8,631.5 L1370.6,632.2 L1375.4,632.7 L1380.0,633.2 L1384.4,633.6 L1388.7,634.0 L1392.9,634.2 L1397.0,634.5 L1401.2,634.8 L1405.6,635.0 L1409.4,635.2 L1412.0,635.3 L1417.3,635.2 L1419.8,635.2 L1422.3,635.2 L1424.8,635.2 L1427.3,635.2 L1429.8,635.2 L1432.3,635.2 L1434.8,635.2 L1437.3,635.2 L1439.8,635.2 L1442.4,635.2 L1444.9,635.2 L1447.4,635.2 L1449.9,635.2 L1452.4,635.2 L1454.9,635.2 L1457.4,635.2 L1459.9,635.2 L1462.4,635.2 L1464.9,635.2 L1467.4,635.2 L1469.9,635.2 L1472.5,635.2 L1475.0,635.2 L1477.5,635.2 L1480.0,635.2 L1482.5,635.2 L1485.0,635.2 L1487.5,635.2 L1490.0,635.2 L1492.5,635.2 L1495.0,635.2 L1497.5,635.2 L1500.1,635.2 L1502.6,635.2 L1505.1,635.2 L1507.6,635.2 L1510.1,635.2 L1512.6,635.2 L1515.1,635.2 L1517.6,635.3 L1520.1,635.3 L1522.6,635.3 L1525.1,635.3 L1527.7,635.3 L1530.2,635.3 L1532.7,635.3 L1535.2,635.3 L1537.7,635.3 L1540.2,635.3 L1542.7,635.3 L1545.2,635.3 L1547.7,635.3 L1550.2,635.3 L1552.7,635.3 L1555.3,635.3 L1557.8,635.3 L1560.3,635.3 L1562.8,635.3 L1565.3,635.3 L1567.8,635.3 L1570.3,635.3 L1572.8,635.3 L1575.3,635.3 L1577.8,635.3 L1580.3,635.3 L1582.8,635.3 L1585.4,635.3 L1587.9,635.3 L1590.4,635.3 L1592.9,635.3 L1595.4,635.3 L1597.9,635.3 L1600.4,635.3 L1602.9,635.3 L1605.4,635.3 L1607.9,635.3 L1610.4,635.3 L1613.0,635.3 L1615.5,635.3 L1618.0,635.3 L1620.5,635.3 L1623.0,635.3 L1625.5,635.3 L1628.0,635.3 L1630.5,635.3 L1633.0,635.3 L1635.5,635.3 L1638.0,635.3 L1640.6,635.3 L1643.1,635.3 L1645.6,635.3 L1648.1,635.3 L1650.6,635.3 L1653.1,635.3 L1655.6,635.3 L1658.1,635.3 L1660.6,635.3 L1663.1,635.3 L1665.6,635.3 L1668.2,635.3 L1670.7,635.3 L1673.2,635.3 L1675.7,635.3 L1678.2,635.3 L1680.7,635.3 L1683.2,635.4 L1685.7,635.4 L1688.2,635.4 L1690.7,635.4 L1693.2,635.4 L1695.8,635.4 L1698.3,635.4 L1700.8,635.4 L1703.3,635.4 L1705.8,635.4 L1708.3,635.4 L1710.8,635.4 L1713.3,635.4 L1715.8,635.4 L1718.3,635.4 L1720.8,635.4 L1723.3,635.4 L1725.9,635.4 L1728.4,635.4 L1730.9,635.4 L1733.4,635.4 L1735.9,635.4 L1738.4,635.4 L1740.9,635.4 L1743.4,635.4 L1745.9,635.4 L1748.4,635.4 L1750.9,635.4 L1753.5,635.4 L1756.0,635.4 L1758.5,635.4 L1761.0,635.4 L1763.5,635.4 L1766.0,635.4 L1768.2,636.5 L1769.5,635.4 L1771.2,633.9 L1773.2,632.1 L1775.5,630.1 L1777.8,628.2 L1780.1,626.3 L1782.4,624.6 L1783.7,623.7 L1784.6,631.1 L1785.5,622.5 L1787.4,621.1 L1790.0,619.4 L1792.5,617.7 L1794.1,616.6 L1795.0,623.9 L1795.9,615.3 L1797.5,614.2 L1800.0,612.4 L1801.6,611.2 L1802.5,618.6 L1803.4,610.0 L1805.0,608.8 L1807.5,607.1 L1809.1,606.0 L1810.0,613.4 L1810.9,604.9 L1812.5,603.9 L1815.0,602.3 L1817.6,600.7 L1818.0,600.5 L1818.9,607.9 L1819.8,599.4 L1820.1,599.2 L1822.5,597.8 L1824.0,597.0 L1824.9,604.5 L1825.8,596.0 L1827.0,595.3 L1829.1,594.3 L1831.0,593.3 L1832.9,592.3 L1833.8,599.9 L1834.7,591.5 L1834.8,591.4 L1836.8,590.6 L1838.8,589.7 L1840.8,589.0 L1841.8,588.6 L1842.7,596.3 L1843.6,587.9 L1844.7,587.5 L1846.7,586.8 L1848.7,586.1 L1850.7,585.3 L1850.8,585.3 L1851.7,593.0 L1852.6,584.6 L1852.7,584.6 L1854.7,583.8 L1856.7,583.1 L1858.6,582.3 L1860.6,581.6 L1861.2,581.4 L1862.1,589.1 L1863.0,580.8 L1864.5,580.3 L1866.4,579.7 L1868.4,579.1 L1870.4,578.5 L1872.6,577.7 L1874.9,576.9 L1877.4,576.1 L1880.0,575.2 L1882.6,574.3 L1885.1,573.4 L1887.5,572.7 L1888.0,572.5 L1888.9,580.2 L1889.8,571.9 L1891.2,571.4 L1892.9,570.9 L1894.6,570.4 L1896.7,570.0 L1899.4,569.7 L1902.6,569.5 L1906.2,569.4 L1910.2,569.4 L1914.4,569.5 L1918.8,569.6 L1923.2,569.7 L1926.8,569.8 L1927.7,577.8 L1928.6,569.9 L1932.7,570.1 L1935.3,571.0 L1937.8,570.3 L1940.3,571.3 L1942.9,570.6 L1945.5,571.4 L1946.2,571.3 L1947.1,579.1 L1948.0,570.9 L1948.0,570.9 L1950.5,570.3 L1953.1,571.2 L1958.0,571.5 L1963.0,571.8 L1968.0,572.2 L1972.9,572.5 L1977.9,572.9 L1982.9,573.3 L1985.4,573.6 L1987.9,573.7 L1990.5,573.7 L1993.0,574.1 L1995.6,574.3 L1998.2,574.5 L2000.7,574.0 L2003.2,574.9 L2008.1,575.3 L2012.7,575.7 L2017.0,576.0 L2020.7,576.3 L2021.6,584.4 L2022.5,576.5 L2025.2,576.7 L2029.0,577.0 L2032.8,577.4 L2036.5,577.7 L2038.7,578.0 L2039.6,586.1 L2040.5,578.2 L2043.5,578.5 L2046.8,578.9 L2049.1,579.2 L2050.0,587.3 L2050.9,579.4 L2053.7,579.7 L2057.4,580.1 L2058.0,580.2 L2058.9,588.3 L2059.8,580.4 L2061.8,580.6 L2066.7,581.0 L2068.4,580.8 L2069.3,588.7 L2070.2,581.0 L2071.8,581.5 L2076.6,581.9 L2077.3,582.0 L2078.2,590.0 L2079.1,582.1 L2080.7,582.3 L2083.6,582.5 L2084.5,581.6 L2087.2,580.7 L2089.9,571.7 L2092.6,562.8 L2095.1,563.7 L2097.6,562.8 L2100.1,562.6 L2102.6,562.5 L2105.1,563.7 L2107.6,562.8 L2110.1,562.4 L2112.6,562.8 L2115.1,562.1 L2117.6,563.0 L2120.1,562.7 L2122.6,562.5 L2125.1,563.3 L2127.7,563.4 L2130.2,562.0 L2132.7,562.9 L2135.2,562.4 L2137.7,563.6 L2140.2,563.4 L2142.7,562.4 L2145.2,562.4 L2147.7,562.2 L2150.2,563.7 L2152.7,562.5 L2155.2,563.1 L2157.7,562.8 L2160.2,563.1 L2162.8,563.1 L2165.3,563.3 L2167.8,562.2 L2170.3,563.4 L2172.8,562.5 L2175.3,563.0 L2177.8,562.6 L2180.3,562.5 L2182.8,563.0 L2185.3,562.8 L2187.8,562.7 L2190.3,563.4 L2192.8,563.1 L2195.3,562.1 L2197.8,562.5 L2200.4,562.8 L2202.9,563.7 L2205.4,563.6 L2207.9,563.0 L2210.4,562.1 L2212.9,563.4 L2215.4,562.8 L2217.9,563.1 L2220.4,563.3 L2222.9,563.2 L2225.4,562.9 L2227.9,563.7 L2230.4,562.8 L2232.9,562.8 L2235.4,563.6 L2238.0,562.4 L2240.5,562.6 L2243.0,563.6 L2245.5,562.2 L2248.0,563.6 L2250.5,563.3 L2253.0,562.9 L2255.5,562.6 L2258.0,563.5 L2260.5,563.7 L2263.0,562.4 L2265.5,563.0 L2268.0,563.1 L2270.5,563.0 L2273.1,562.7 L2275.6,562.4 L2278.1,563.2 L2280.6,563.6 L2283.1,562.3 L2285.6,562.6 L2288.1,563.6 L2290.6,563.6 L2293.1,563.3 L2295.6,562.2 L2298.1,563.5 L2300.6,563.9 L2303.1,564.0 L2305.6,563.4 L2308.1,562.3 L2310.7,563.7 L2313.2,562.6 L2315.7,563.3 L2318.2,563.9 L2320.7,563.5 L2323.2,562.4 L2325.7,562.7 L2328.2,563.8 L2330.7,562.5 L2333.2,563.3 L2335.7,562.9 L2338.2,562.5 L2340.7,563.3 L2343.2,562.3 L2345.8,562.4 L2348.3,562.9 L2350.8,562.4 L2353.3,562.3 L2355.8,563.3 L2358.3,563.6 L2360.8,563.8 L2363.3,562.5 L2365.8,563.0 L2368.3,562.8 L2370.8,563.3 L2373.3,563.1 L2375.8,563.9 L2378.3,562.9 L2380.8,562.4 L2383.4,563.5 L2385.9,562.5 L2388.4,563.4 L2390.9,563.2 L2393.4,563.9 L2395.9,563.3 L2398.4,563.4 L2400.9,562.8 L2403.4,563.3 L2405.9,562.7 L2408.4,563.6 L2410.9,563.2 L2413.4,562.5 L2415.9,562.7 L2418.5,563.0 L2421.0,563.6 L2423.5,562.6 L2426.0,563.6 L2428.5,563.5 L2431.0,562.5 L2433.5,563.5 L2436.0,562.5 L2438.5,562.6 L2441.0,563.4 L2443.5,562.8 L2446.0,563.9 L2448.5,563.2 L2451.0,562.9 L2453.5,563.8 L2456.1,562.4 L2458.6,563.7 L2461.1,562.5 L2463.6,562.6 L2466.1,564.1 L2468.6,563.6 L2471.1,562.8 L2473.6,562.6 L2476.1,564.1 L2478.6,563.6 L2481.1,563.9 L2483.6,562.6 L2486.1,563.5 L2488.6,563.0 L2491.1,562.8 L2493.7,563.0 L2496.2,563.5 L2498.7,563.0 L2501.2,563.1 L2503.7,562.7 L2506.2,563.9 L2508.7,563.6 L2511.2,563.9 L2513.7,563.2 L2516.2,564.0 L2518.7,563.4 L2521.2,563.5 L2523.7,563.5 L2526.2,563.8 L2528.8,563.2 L2531.3,562.6 L2533.8,562.5 L2536.3,562.8 L2538.8,562.5 L2541.3,564.1 L2543.8,563.3 L2546.3,563.8 L2548.8,562.5 L2551.3,563.3 L2553.8,564.1 L2556.3,563.6 L2558.8,563.3 L2561.3,563.3 L2563.8,562.7 L2566.4,562.8 L2568.9,562.8 L2571.4,563.2 L2573.9,563.2 L2576.4,564.1 L2578.9,562.8 L2581.4,563.0 L2583.9,563.0 L2586.4,562.8 L2588.9,563.0 L2591.4,563.0 L2593.9,563.4 L2596.4,562.6 L2598.9,564.2 L2601.5,563.2 L2604.0,564.2 L2606.5,563.8 L2609.0,563.8 L2611.5,563.4 L2614.0,564.3 L2616.5,562.8 L2619.0,563.8 L2621.5,563.1 L2624.0,563.8 L2626.5,563.9 L2629.0,562.9 L2631.5,562.9 L2634.0,562.6 L2636.5,563.0 L2639.1,562.7 L2641.6,563.3 L2644.1,564.4 L2646.6,563.3 L2649.1,563.2 L2651.6,563.4 L2654.1,563.1 L2656.6,563.9 L2659.1,563.9 L2661.6,562.9 L2664.1,563.1 L2666.6,563.8 L2669.1,564.3 L2671.6,563.8 L2674.2,563.4 L2676.7,564.4 L2679.2,562.7 L2681.7,562.8 L2684.2,564.1 L2686.7,563.4 L2689.2,562.7 L2691.7,563.6 L2694.2,564.4 L2696.7,563.6 L2699.2,563.3 L2701.7,562.8 L2704.2,562.8 L2706.7,564.3 L2709.2,563.6 L2711.8,564.4 L2714.3,562.8 L2716.8,563.1 L2719.3,562.8 L2721.8,563.4 L2724.3,562.8 L2726.8,563.2 L2729.3,563.4 L2731.8,563.3 L2734.3,562.8 L2736.8,562.8 L2739.3,564.5 L2741.8,563.0 L2744.3,563.6 L2746.8,563.5 L2749.4,563.7 L2751.9,562.9 L2754.4,563.3 L2756.9,562.9 L2759.4,563.7 L2761.9,564.4 L2764.4,563.8 L2766.9,564.3 L2769.4,563.1 L2771.9,562.8 L2774.4,563.7 L2776.9,563.6 L2779.4,563.8 L2781.9,563.5 L2784.5,563.9 L2787.0,564.1 L2789.5,564.4 L2792.0,563.3 L2794.5,563.6 L2797.0,564.3 L2799.5,563.2 L2802.5,563.7 L2802.7,565.2 L2802.9,567.2 L2803.2,569.6 L2803.8,571.9 L2804.6,574.1 L2805.6,576.3 L2806.8,578.6 L2808.3,580.8 L2810.2,583.1 L2812.4,585.4 L2814.7,587.7 L2817.2,589.8 L2819.8,591.7 L2822.5,593.6 L2825.3,595.3 L2828.0,596.9 L2830.7,598.4 L2833.3,599.9 L2836.0,601.2 L2838.7,602.3 L2841.6,603.1 L2844.8,603.7 L2847.6,604.2 L2849.5,604.5" fill="none" stroke="#FADE2A" stroke-width="3.9" stroke-linejoin="round" stroke-linecap="butt"/><path d="M127.0,635.4 L129.5,635.4 L132.0,635.4 L134.5,635.4 L137.0,635.4 L139.5,635.4 L142.0,635.4 L144.5,635.4 L147.1,635.4 L149.6,635.4 L152.1,635.4 L154.6,635.4 L157.1,635.4 L159.6,635.4 L162.1,635.4 L164.6,635.4 L167.1,635.4 L169.6,635.4 L172.1,635.4 L174.6,635.4 L177.1,635.4 L179.6,635.4 L182.1,635.4 L184.6,635.4 L187.2,635.4 L189.7,635.4 L192.2,635.4 L194.7,635.4 L197.2,635.4 L199.7,635.4 L202.2,635.4 L204.7,635.4 L207.2,635.4 L209.7,635.4 L212.2,635.4 L214.7,635.4 L217.2,635.4 L219.7,635.4 L222.2,635.4 L224.8,635.4 L227.3,635.4 L229.8,635.4 L232.3,635.4 L234.8,635.4 L237.3,635.4 L239.8,635.4 L242.3,635.4 L244.8,635.4 L247.3,635.4 L249.8,635.4 L252.3,635.4 L254.8,635.4 L257.3,635.4 L259.8,635.4 L262.4,635.4 L264.9,635.4 L267.4,635.4 L269.9,635.4 L272.4,635.4 L274.9,635.4 L277.4,635.4 L279.9,635.4 L282.4,635.4 L284.9,635.4 L287.4,635.4 L289.9,635.4 L292.4,635.4 L294.9,635.4 L297.4,635.4 L299.9,635.4 L302.5,635.4 L305.0,635.4 L307.5,635.4 L310.0,635.4 L312.5,635.4 L315.0,635.4 L317.5,635.4 L320.0,635.4 L322.8,635.3 L325.6,635.2 L328.5,635.1 L331.3,634.9 L333.9,634.2 L336.5,633.3 L339.1,632.7 L341.7,632.7 L344.3,631.0 L346.9,630.3 L349.5,629.7 L352.1,629.4 L354.8,628.1 L357.4,628.2 L360.0,627.9 L362.6,627.1 L365.2,627.4 L367.8,625.8 L370.4,625.9 L373.0,625.3 L375.6,626.4 L378.2,625.6 L380.8,624.9 L383.4,622.6 L386.0,623.4 L388.7,622.3 L391.3,620.6 L393.9,619.3 L396.4,618.3 L398.9,616.1 L401.4,614.6 L403.9,614.3 L406.4,613.0 L408.9,611.3 L411.4,610.8 L413.9,610.1 L416.4,608.8 L418.9,609.0 L422.0,607.7 L425.2,606.4 L428.3,605.2 L431.4,599.6 L434.5,592.7 L437.7,583.3 L442.4,589.6 L445.0,589.6 L447.6,589.9 L450.2,589.6 L453.3,587.2 L456.4,584.9 L459.6,587.6 L462.7,589.6 L465.8,585.3 L469.0,580.8 L472.1,577.1 L475.2,576.5 L478.3,574.9 L481.5,572.4 L484.0,572.7 L486.5,572.2 L489.0,571.1 L491.5,570.6 L494.0,570.8 L497.1,567.3 L500.3,564.5 L503.4,562.1 L506.5,561.4 L509.6,560.4 L512.8,558.3 L515.9,555.7 L519.0,553.6 L522.2,555.1 L525.3,555.2 L528.4,553.4 L531.5,552.0 L534.2,552.0 L536.9,550.8 L539.6,549.1 L542.3,548.1 L545.6,534.7 L547.9,512.3 L550.1,503.4 L552.3,519.1 L555.7,512.3 L557.0,509.9 L558.2,576.7 L559.4,512.7 L560.7,575.5 L561.9,518.0 L563.1,586.6 L564.3,505.3 L565.6,570.6 L566.8,510.4 L568.0,583.1 L569.1,523.5 L573.6,505.6 L578.0,502.3 L581.4,504.0 L584.7,505.6 L589.2,503.4 L591.0,515.3 L592.1,566.6 L593.2,517.5 L594.4,565.8 L595.5,512.9 L596.6,562.4 L597.8,524.9 L598.9,556.8 L600.0,522.7 L602.6,516.8 L606.0,525.8 L609.3,568.2 L610.0,542.8 L611.3,596.8 L612.7,546.3 L614.0,592.7 L615.3,545.2 L616.7,593.1 L618.0,530.6 L619.3,602.5 L620.7,549.3 L622.0,598.7 L623.3,548.5 L624.7,609.7 L626.0,539.6 L628.3,534.7 L632.8,521.3 L637.3,530.2 L641.7,550.3 L645.1,557.0 L648.4,534.7 L651.8,521.3 L655.1,579.4 L658.5,532.5 L661.8,534.7 L665.2,545.9 L669.7,557.0 L673.0,599.5 L675.3,543.6 L678.6,583.9 L682.0,548.1 L685.3,566.0 L689.8,583.9 L692.0,550.3 L695.4,574.9 L698.7,557.0 L702.1,579.4 L705.4,554.8 L708.8,539.2 L712.1,552.6 L714.4,577.2 L716.6,545.9 L721.1,552.6 L725.5,532.5 L728.9,557.0 L732.2,545.9 L735.6,586.1 L738.9,534.7 L741.2,507.9 L743.4,510.1 L745.6,577.2 L747.9,512.3 L751.2,496.7 L754.6,505.6 L755.0,471.5 L758.6,485.8 L760.4,460.8 L763.1,455.4 L765.8,450.1 L769.3,435.8 L772.9,421.5 L776.5,410.7 L778.3,439.3 L780.1,400.0 L780.3,389.6 L783.6,376.2 L787.0,374.0 L790.3,371.7 L793.2,385.1 L794.8,403.0 L796.1,385.1 L797.0,349.4 L801.5,322.6 L804.3,313.6 L807.1,304.7 L810.4,282.3 L813.8,273.4 L814.5,280.0 L818.6,528.8 L823.0,280.0 L826.0,245.1 L830.6,238.4 L832.8,242.9 L833.9,400.0 L839.1,562.7 L842.7,400.0 L844.5,250.0 L845.1,227.3 L848.4,209.4 L849.5,300.0 L851.5,420.0 L853.2,555.6 L855.5,420.0 L857.5,300.0 L858.5,218.3 L861.8,220.6 L863.0,236.2 L865.2,218.3 L867.4,213.9 L869.7,216.1 L871.5,240.0 L872.5,409.0 L873.5,240.0 L875.3,231.7 L877.5,204.9 L879.7,198.2 L882.0,193.7 L883.0,300.0 L884.0,557.4 L885.0,300.0 L886.0,194.0 L888.7,195.9 L892.0,194.8 L895.4,193.7 L899.8,198.2 L903.2,201.6 L906.5,193.7 L909.9,191.1 L913.2,193.7 L916.6,222.8 L918.8,192.6 L922.1,192.6 L925.5,192.6 L927.8,196.0 L930.0,216.0 L931.1,270.0 L931.6,520.0 L931.6,575.5 L933.4,582.6 L937.9,589.8 L938.8,618.4 L941.5,621.0 L944.6,622.0 L947.7,622.9 L948.6,595.1 L950.4,595.1 L954.0,602.3 L957.5,603.6 L961.1,605.0 L963.8,607.2 L966.5,609.4 L967.4,614.8 L970.1,609.4 L972.8,608.1 L975.5,606.8 L979.0,609.4 L981.7,609.8 L984.4,610.3 L986.2,617.5 L988.9,618.4 L991.6,619.3 L994.6,620.5 L997.5,621.7 L1000.5,622.9 L1003.5,624.1 L1006.4,625.2 L1009.4,626.4 L1012.1,627.1 L1014.8,627.8 L1017.5,628.4 L1020.2,629.1 L1023.8,630.0 L1027.3,630.9 L1030.3,631.2 L1033.3,631.5 L1036.3,631.8 L1039.0,635.4 L1041.5,635.4 L1044.0,635.4 L1046.5,635.4 L1049.0,635.4 L1051.5,635.4 L1054.0,635.4 L1056.5,635.4 L1059.0,635.4 L1061.5,635.4 L1064.0,635.4 L1066.5,635.4 L1069.0,635.4 L1071.6,635.4 L1074.1,635.4 L1076.6,635.4 L1079.1,635.4 L1081.6,635.4 L1084.1,635.4 L1086.6,635.4 L1089.1,635.4 L1091.6,635.4 L1094.1,635.4 L1096.6,635.4 L1099.1,635.4 L1101.6,635.4 L1104.1,635.4 L1106.6,635.4 L1109.1,635.4 L1111.6,635.4 L1114.1,635.4 L1116.6,635.4 L1119.1,635.4 L1121.6,635.4 L1124.1,635.4 L1126.6,635.4 L1129.1,635.4 L1131.6,635.4 L1134.1,635.4 L1136.7,635.4 L1139.2,635.4 L1141.7,635.4 L1144.2,635.4 L1146.7,635.4 L1149.2,635.4 L1151.7,635.4 L1154.2,635.4 L1156.7,635.4 L1159.2,635.4 L1161.7,635.4 L1164.2,635.4 L1166.7,635.4 L1169.2,635.4 L1171.7,635.4 L1174.2,635.4 L1176.7,635.4 L1179.2,635.4 L1181.7,635.4 L1184.2,635.4 L1186.7,635.4 L1189.2,635.4 L1191.7,635.4 L1194.2,635.4 L1196.7,635.4 L1199.2,635.4 L1201.8,635.4 L1204.3,635.4 L1206.8,635.4 L1209.3,635.4 L1211.8,635.4 L1214.3,635.4 L1216.8,635.4 L1219.3,635.4 L1221.8,635.4 L1224.3,635.4 L1226.8,635.4 L1229.3,635.4 L1231.8,635.4 L1234.3,635.4 L1236.8,635.4 L1239.3,635.4 L1241.8,635.4 L1244.3,635.4 L1246.8,635.4 L1249.3,635.4 L1251.8,635.4 L1254.3,635.4 L1256.8,635.4 L1259.3,635.4 L1261.8,635.4 L1264.3,635.4 L1266.9,635.4 L1269.4,635.4 L1271.9,635.4 L1274.4,635.4 L1276.9,635.4 L1279.4,635.4 L1281.9,635.4 L1284.4,635.4 L1286.9,635.4 L1289.4,635.4 L1291.9,635.4 L1294.4,635.4 L1296.9,635.4 L1299.4,635.4 L1301.9,635.4 L1304.4,635.4 L1306.9,635.4 L1309.4,635.4 L1311.9,635.4 L1314.4,635.4 L1316.9,635.4 L1319.4,635.4 L1321.9,635.4 L1324.4,635.4 L1326.9,635.4 L1329.4,635.4 L1332.0,635.4 L1334.5,635.4 L1337.0,635.4 L1339.5,635.4 L1342.0,635.4 L1344.5,635.4 L1347.0,635.4 L1349.5,635.4 L1352.0,635.4 L1354.5,635.4 L1357.0,635.4 L1359.5,635.4 L1362.0,635.4 L1364.5,635.4 L1367.0,635.4 L1369.5,635.4 L1372.0,635.4 L1374.5,635.4 L1377.0,635.4 L1379.5,635.4 L1382.0,635.4 L1384.5,635.4 L1387.0,635.4 L1389.5,635.4 L1392.0,635.4 L1394.5,635.4 L1397.1,635.4 L1399.6,635.4 L1402.1,635.4 L1404.6,635.4 L1407.1,635.4 L1409.6,635.4 L1412.1,635.4 L1414.6,635.4 L1417.1,635.4 L1419.6,635.4 L1422.1,635.4 L1424.6,635.4 L1427.1,635.4 L1429.6,635.4 L1432.1,635.4 L1434.6,635.4 L1437.1,635.4 L1439.6,635.4 L1442.1,635.4 L1444.6,635.4 L1447.1,635.4 L1449.6,635.4 L1452.1,635.4 L1454.6,635.4 L1457.1,635.4 L1459.6,635.4 L1462.2,635.4 L1464.7,635.4 L1467.2,635.4 L1469.7,635.4 L1472.2,635.4 L1474.7,635.4 L1477.2,635.4 L1479.7,635.4 L1482.2,635.4 L1484.7,635.4 L1487.2,635.4 L1489.7,635.4 L1492.2,635.4 L1494.7,635.4 L1497.2,635.4 L1499.7,635.4 L1502.2,635.4 L1504.7,635.4 L1507.2,635.4 L1509.7,635.4 L1512.2,635.4 L1514.7,635.4 L1517.2,635.4 L1519.7,635.4 L1522.2,635.4 L1524.7,635.4 L1527.3,635.4 L1529.8,635.4 L1532.3,635.4 L1534.8,635.4 L1537.3,635.4 L1539.8,635.4 L1542.3,635.4 L1544.8,635.4 L1547.3,635.4 L1549.8,635.4 L1552.3,635.4 L1554.8,635.4 L1557.3,635.4 L1559.8,635.4 L1562.3,635.4 L1564.8,635.4 L1567.3,635.4 L1569.8,635.4 L1572.3,635.4 L1574.8,635.4 L1577.3,635.4 L1579.8,635.4 L1582.3,635.4 L1584.8,635.4 L1587.3,635.4 L1589.8,635.4 L1592.4,635.4 L1594.9,635.4 L1597.4,635.4 L1599.9,635.4 L1602.4,635.4 L1604.9,635.4 L1607.4,635.4 L1609.9,635.4 L1612.4,635.4 L1614.9,635.4 L1617.4,635.4 L1619.9,635.4 L1622.4,635.4 L1624.9,635.4 L1627.4,635.4 L1629.9,635.4 L1632.4,635.4 L1634.9,635.4 L1637.4,635.4 L1639.9,635.4 L1642.4,635.4 L1644.9,635.4 L1647.4,635.4 L1649.9,635.4 L1652.4,635.4 L1654.9,635.4 L1657.5,635.4 L1660.0,635.4 L1662.5,635.4 L1665.0,635.4 L1667.5,635.4 L1670.0,635.4 L1672.5,635.4 L1675.0,635.4 L1677.5,635.4 L1680.0,635.4 L1682.5,635.4 L1685.0,635.4 L1687.5,635.4 L1687.7,635.9 L1690.8,635.3 L1695.1,634.5 L1700.2,633.5 L1705.5,632.5 L1710.4,631.6 L1714.5,630.8 L1717.6,630.2 L1720.2,629.8 L1722.4,629.3 L1724.5,628.9 L1726.8,628.4 L1729.4,627.8 L1732.6,627.1 L1736.2,626.2 L1739.9,625.3 L1743.6,624.3 L1746.4,623.6 L1747.3,632.3 L1748.2,623.1 L1750.3,622.5 L1753.1,621.7 L1755.7,620.9 L1758.1,620.2 L1760.5,619.4 L1762.8,618.5 L1765.2,617.4 L1767.7,616.1 L1770.2,614.7 L1772.7,613.1 L1775.2,611.5 L1777.6,609.9 L1780.1,608.5 L1782.6,607.1 L1785.1,605.9 L1785.2,605.9 L1786.1,614.4 L1787.0,605.0 L1787.6,604.7 L1790.1,603.5 L1792.6,602.3 L1795.0,601.0 L1797.5,599.6 L1800.0,598.1 L1802.5,596.6 L1805.0,595.1 L1807.5,593.6 L1809.9,592.1 L1812.5,590.5 L1815.0,589.0 L1817.6,587.4 L1820.1,585.9 L1822.5,584.5 L1823.4,592.9 L1824.3,583.4 L1824.9,583.1 L1827.0,581.9 L1829.1,580.8 L1831.0,579.9 L1832.9,578.9 L1834.8,578.0 L1836.8,577.1 L1838.8,576.3 L1840.8,575.5 L1842.7,574.8 L1844.7,574.1 L1846.7,573.4 L1848.7,572.7 L1850.7,572.0 L1850.8,572.0 L1851.7,580.7 L1852.6,571.4 L1852.7,571.3 L1854.7,570.7 L1856.7,570.0 L1858.6,569.4 L1860.6,568.8 L1861.2,568.6 L1862.1,577.3 L1863.0,568.1 L1864.5,567.6 L1866.4,567.0 L1868.4,566.5 L1870.4,565.9 L1872.6,565.2 L1874.9,564.5 L1877.4,563.7 L1880.0,562.9 L1882.6,562.1 L1885.1,561.3 L1887.5,560.8 L1889.5,560.3 L1891.2,559.9 L1892.9,559.7 L1894.6,559.5 L1896.7,559.3 L1899.4,559.3 L1902.6,559.3 L1906.2,559.3 L1910.2,559.5 L1914.4,559.7 L1918.8,559.9 L1923.2,560.2 L1926.8,560.4 L1927.7,569.4 L1928.6,560.5 L1932.7,560.8 L1937.8,561.2 L1942.9,561.5 L1948.0,561.9 L1953.1,562.2 L1958.0,562.5 L1963.0,562.8 L1968.0,563.0 L1972.9,563.2 L1977.9,563.5 L1982.9,563.7 L1987.9,564.0 L1993.0,564.4 L1998.2,564.7 L2003.2,565.0 L2008.1,565.4 L2012.7,565.8 L2017.0,566.3 L2021.2,566.7 L2025.2,567.2 L2029.0,567.7 L2032.8,568.2 L2036.5,568.8 L2040.3,569.4 L2043.9,570.1 L2047.5,570.8 L2051.0,571.5 L2054.3,572.2 L2057.4,572.7 L2060.3,573.1 L2063.0,573.4 L2065.5,573.6 L2067.8,573.8 L2068.4,573.9 L2069.3,582.9 L2070.2,574.0 L2072.3,574.2 L2074.5,574.3 L2076.8,574.5 L2077.3,574.5 L2078.2,583.5 L2079.1,574.6 L2080.8,574.6 L2082.5,574.7 L2083.6,574.8 L2085.4,578.9 L2087.2,600.4 L2089.0,571.7 L2089.9,551.3 L2094.2,537.1 L2099.8,520.1 L2105.5,503.1 L2108.3,494.6 L2111.2,483.3 L2112.6,494.6 L2114.0,506.0 L2114.6,489.0 L2115.4,477.6 L2118.2,466.3 L2121.1,455.0 L2121.9,489.0 L2122.5,523.0 L2123.1,489.0 L2123.9,455.0 L2126.7,440.8 L2129.6,429.5 L2130.4,483.3 L2131.0,531.5 L2131.6,483.3 L2132.4,426.7 L2135.2,415.3 L2138.1,406.8 L2140.9,398.3 L2141.8,421.0 L2142.3,446.5 L2142.9,421.0 L2143.7,395.5 L2148.0,381.3 L2149.8,378.8 L2158.7,355.0 L2163.2,343.1 L2164.1,366.9 L2164.7,393.7 L2165.3,366.9 L2166.2,340.1 L2172.2,325.2 L2179.6,307.3 L2184.1,292.4 L2190.0,280.5 L2190.9,319.2 L2191.5,358.0 L2192.1,319.2 L2193.0,274.5 L2197.5,265.6 L2199.9,261.1 L2200.5,280.5 L2201.1,298.4 L2201.7,280.5 L2202.3,256.6 L2209.4,244.7 L2218.4,234.3 L2227.3,225.3 L2239.2,211.9 L2254.1,204.5 L2269.0,200.0 L2275.3,200.4 L2278.1,202.2 L2281.0,204.6 L2283.8,207.7 L2286.6,208.9 L2290.9,211.7 L2292.3,220.2 L2292.6,400.0 L2294.0,507.3 L2295.8,507.3 L2295.8,575.3 L2299.4,586.0 L2301.1,618.2 L2302.9,620.0 L2304.7,620.0 L2304.7,595.0 L2307.4,595.9 L2310.1,596.8 L2313.0,598.6 L2315.8,600.4 L2318.7,602.1 L2321.5,603.9 L2324.4,605.7 L2326.9,606.8 L2329.4,607.9 L2331.9,608.9 L2334.4,610.0 L2336.9,611.1 L2339.4,612.2 L2341.9,613.2 L2344.4,614.3 L2346.9,615.4 L2349.4,616.5 L2351.9,617.4 L2354.5,618.2 L2357.0,619.1 L2359.5,620.0 L2362.0,620.9 L2364.5,621.8 L2367.0,622.7 L2369.5,623.6 L2372.0,624.5 L2374.5,625.4 L2377.2,626.1 L2379.9,626.7 L2382.5,627.4 L2385.2,628.1 L2387.9,628.8 L2390.6,629.4 L2393.3,630.1 L2396.0,630.8 L2399.5,635.1 L2402.0,635.1 L2404.6,635.1 L2407.1,635.1 L2409.6,635.1 L2412.1,635.1 L2414.6,635.1 L2417.1,635.1 L2419.6,635.1 L2422.1,635.1 L2424.6,635.1 L2427.2,635.1 L2429.7,635.1 L2432.2,635.1 L2434.7,635.1 L2437.2,635.1 L2439.7,635.1 L2442.2,635.1 L2444.7,635.1 L2447.2,635.1 L2449.8,635.1 L2452.3,635.1 L2454.8,635.1 L2457.3,635.1 L2459.8,635.1 L2462.3,635.1 L2464.8,635.1 L2467.3,635.1 L2469.8,635.1 L2472.4,635.1 L2474.9,635.1 L2477.4,635.1 L2479.9,635.1 L2482.4,635.1 L2484.9,635.1 L2487.4,635.1 L2489.9,635.1 L2492.4,635.1 L2495.0,635.1 L2497.5,635.1 L2500.0,635.1 L2502.5,635.1 L2505.0,635.1 L2507.5,635.1 L2510.0,635.1 L2512.5,635.1 L2515.0,635.1 L2517.6,635.2 L2520.1,635.2 L2522.6,635.2 L2525.1,635.2 L2527.6,635.2 L2530.1,635.2 L2532.6,635.2 L2535.1,635.2 L2537.6,635.2 L2540.1,635.2 L2542.7,635.2 L2545.2,635.2 L2547.7,635.2 L2550.2,635.2 L2552.7,635.2 L2555.2,635.2 L2557.7,635.2 L2560.2,635.2 L2562.7,635.2 L2565.3,635.2 L2567.8,635.2 L2570.3,635.2 L2572.8,635.2 L2575.3,635.2 L2577.8,635.2 L2580.3,635.2 L2582.8,635.2 L2585.3,635.2 L2587.9,635.2 L2590.4,635.2 L2592.9,635.2 L2595.4,635.2 L2597.9,635.2 L2600.4,635.2 L2602.9,635.2 L2605.4,635.2 L2607.9,635.2 L2610.5,635.2 L2613.0,635.2 L2615.5,635.2 L2618.0,635.2 L2620.5,635.2 L2623.0,635.2 L2625.5,635.2 L2628.0,635.2 L2630.5,635.2 L2633.1,635.2 L2635.6,635.2 L2638.1,635.2 L2640.6,635.2 L2643.1,635.2 L2645.6,635.2 L2648.1,635.2 L2650.6,635.3 L2653.1,635.3 L2655.7,635.3 L2658.2,635.3 L2660.7,635.3 L2663.2,635.3 L2665.7,635.3 L2668.2,635.3 L2670.7,635.3 L2673.2,635.3 L2675.7,635.3 L2678.3,635.3 L2680.8,635.3 L2683.3,635.3 L2685.8,635.3 L2688.3,635.3 L2690.8,635.3 L2693.3,635.3 L2695.8,635.3 L2698.3,635.3 L2700.9,635.3 L2703.4,635.3 L2705.9,635.3 L2708.4,635.3 L2710.9,635.3 L2713.4,635.3 L2715.9,635.3 L2718.4,635.3 L2720.9,635.3 L2723.5,635.3 L2726.0,635.3 L2728.5,635.3 L2731.0,635.3 L2733.5,635.3 L2736.0,635.3 L2738.5,635.3 L2741.0,635.3 L2743.5,635.3 L2746.0,635.3 L2748.6,635.3 L2751.1,635.3 L2753.6,635.3 L2756.1,635.3 L2758.6,635.3 L2761.1,635.3 L2763.6,635.3 L2766.1,635.3 L2768.6,635.3 L2771.2,635.3 L2773.7,635.3 L2776.2,635.3 L2778.7,635.3 L2781.2,635.3 L2783.7,635.4 L2786.2,635.4 L2788.7,635.4 L2791.2,635.4 L2793.8,635.4 L2796.3,635.4 L2798.8,635.4 L2801.3,635.4 L2803.8,635.4 L2806.3,635.4 L2808.8,635.4 L2811.3,635.4 L2813.8,635.4 L2816.4,635.4 L2818.9,635.4 L2821.4,635.4 L2823.9,635.4 L2826.4,635.4 L2828.9,635.4 L2831.4,635.4 L2833.9,635.4 L2836.4,635.4 L2839.0,635.4 L2841.5,635.4 L2844.0,635.4 L2846.5,635.4 L2849.0,635.4" fill="none" stroke="#73BF69" stroke-width="3.9" stroke-linejoin="round" stroke-linecap="butt"/><path d="M127.0,572.3 L233.3,572.3 L233.8,581.3 L235.9,581.3 L236.4,572.3 L238.8,572.3 L239.3,581.3 L336.0,581.3 L336.5,572.3 L345.6,572.3 L346.1,563.3 L353.4,563.3 L353.9,554.3 L361.2,554.3 L361.8,545.3 L367.6,545.3 L368.1,536.3 L376.7,536.3 L377.2,527.3 L384.5,527.3 L385.0,518.3 L390.9,518.3 L391.4,509.3 L398.9,509.3 L399.4,500.3 L404.8,500.3 L405.3,491.3 L409.5,491.3 L410.0,482.3 L417.3,482.3 L417.8,473.3 L424.5,473.3 L425.0,464.3 L430.5,464.3 L431.0,455.3 L492.9,455.3 L493.4,464.3 L493.6,464.3 L494.1,455.3 L502.9,455.3 L503.4,464.3 L503.6,464.3 L504.1,455.3 L540.5,455.3 L541.0,446.3 L541.4,446.3 L541.9,455.3 L541.9,455.3 L542.3,464.3 L542.5,464.3 L543.0,455.3 L543.4,455.3 L543.9,446.3 L545.9,446.3 L546.4,437.3 L546.6,437.3 L547.1,428.3 L547.4,428.3 L547.9,419.3 L551.4,419.3 L551.9,428.3 L553.1,428.3 L553.6,419.3 L554.8,419.3 L555.3,410.3 L555.7,410.3 L556.2,401.3 L556.6,401.3 L557.1,410.3 L557.1,410.3 L557.5,419.3 L557.5,419.3 L558.0,428.3 L560.4,428.3 L560.9,437.3 L561.2,437.3 L561.7,446.3 L561.7,446.3 L562.2,455.3 L562.2,455.3 L562.7,464.3 L562.7,464.3 L562.9,455.3 L562.9,455.3 L563.1,446.3 L563.1,446.3 L563.3,437.3 L563.3,437.3 L563.8,428.3 L563.8,428.3 L564.0,437.3 L564.0,437.3 L564.5,446.3 L564.5,446.3 L565.0,455.3 L565.0,455.3 L565.5,464.3 L565.5,464.3 L566.0,473.3 L566.0,473.3 L566.2,464.3 L566.2,464.3 L566.5,455.3 L566.5,455.3 L566.7,446.3 L566.7,446.3 L566.9,437.3 L566.9,437.3 L567.1,428.3 L570.0,428.3 L570.5,419.3 L571.5,419.3 L572.0,410.3 L573.4,410.3 L573.9,401.3 L575.7,401.3 L576.2,392.3 L591.6,392.3 L592.1,401.3 L592.1,401.3 L592.6,410.3 L592.6,410.3 L593.0,419.3 L593.0,419.3 L593.5,428.3 L593.5,428.3 L593.9,437.3 L593.9,437.3 L594.4,446.3 L594.4,446.3 L594.6,437.3 L594.6,437.3 L595.1,428.3 L595.1,428.3 L595.5,419.3 L595.5,419.3 L595.9,410.3 L595.9,410.3 L596.4,419.3 L596.4,419.3 L596.8,428.3 L596.8,428.3 L597.3,437.3 L597.3,437.3 L597.5,428.3 L598.0,428.3 L598.5,419.3 L599.0,419.3 L599.5,410.3 L599.5,410.3 L599.8,419.3 L602.0,419.3 L602.5,410.3 L603.0,410.3 L603.5,401.3 L605.4,401.3 L605.9,410.3 L607.8,410.3 L608.3,419.3 L609.3,419.3 L609.8,428.3 L609.8,428.3 L610.2,437.3 L610.2,437.3 L610.7,446.3 L611.7,446.3 L612.2,455.3 L618.4,455.3 L618.9,464.3 L619.9,464.3 L620.4,455.3 L621.4,455.3 L621.9,446.3 L626.2,446.3 L626.7,455.3 L627.5,455.3 L628.0,446.3 L628.7,446.3 L629.2,437.3 L630.1,437.3 L630.6,428.3 L631.8,428.3 L632.3,419.3 L633.8,419.3 L634.3,410.3 L635.8,410.3 L636.3,419.3 L637.7,419.3 L638.2,428.3 L639.9,428.3 L640.4,437.3 L643.0,437.3 L643.5,446.3 L644.7,446.3 L645.2,437.3 L647.8,437.3 L648.3,428.3 L650.0,428.3 L650.5,419.3 L651.0,419.3 L651.5,410.3 L654.0,410.3 L654.5,419.3 L654.5,419.3 L655.0,428.3 L655.0,428.3 L655.5,437.3 L655.5,437.3 L656.0,446.3 L656.0,446.3 L656.5,455.3 L656.5,455.3 L657.0,446.3 L657.2,446.3 L657.7,437.3 L658.0,437.3 L658.5,428.3 L659.5,428.3 L660.0,419.3 L663.0,419.3 L663.5,428.3 L664.4,428.3 L664.9,437.3 L666.7,437.3 L667.2,446.3 L669.2,446.3 L669.7,455.3 L672.9,455.3 L673.4,464.3 L674.6,464.3 L675.1,455.3 L675.6,455.3 L676.1,446.3 L676.9,446.3 L677.4,455.3 L678.1,455.3 L678.6,464.3 L679.3,464.3 L679.8,455.3 L707.3,455.3 L707.8,446.3 L709.8,446.3 L710.3,455.3 L722.4,455.3 L722.9,446.3 L723.7,446.3 L724.2,437.3 L728.6,437.3 L729.1,446.3 L730.5,446.3 L731.0,437.3 L731.5,437.3 L732.0,428.3 L732.5,428.3 L733.0,437.3 L733.0,437.3 L733.5,446.3 L733.5,446.3 L734.0,455.3 L734.0,455.3 L734.5,464.3 L734.5,464.3 L735.0,455.3 L735.0,455.3 L735.5,446.3 L735.5,446.3 L736.0,437.3 L736.0,437.3 L736.2,428.3 L736.2,428.3 L736.7,419.3 L736.7,419.3 L737.0,410.3 L737.9,410.3 L738.4,401.3 L739.3,401.3 L739.8,392.3 L743.0,392.3 L743.5,383.3 L744.9,383.3 L745.4,374.3 L747.6,374.3 L748.1,365.3 L751.1,365.3 L751.6,356.3 L753.8,356.3 L754.3,347.3 L756.2,347.3 L756.7,356.3 L757.2,356.3 L757.7,365.3 L758.2,365.3 L758.7,356.3 L758.9,356.3 L759.4,347.3 L759.7,347.3 L760.2,338.3 L761.6,338.3 L762.1,329.3 L767.1,329.3 L767.6,338.3 L767.6,338.3 L768.0,347.3 L768.0,347.3 L768.5,338.3 L768.5,338.3 L768.9,329.3 L768.9,329.3 L769.4,320.3 L770.8,320.3 L771.3,311.3 L777.1,311.3 L777.6,320.3 L777.6,320.3 L778.1,329.3 L778.3,329.3 L778.8,320.3 L778.8,320.3 L779.3,311.3 L779.3,311.3 L779.8,302.3 L779.8,302.3 L780.3,293.3 L781.9,293.3 L782.4,284.3 L784.1,284.3 L784.6,293.3 L785.1,293.3 L785.6,302.3 L786.4,302.3 L786.9,293.3 L787.4,293.3 L787.9,284.3 L789.1,284.3 L789.6,275.3 L795.2,275.3 L795.7,284.3 L795.9,284.3 L796.4,293.3 L796.6,293.3 L797.1,284.3 L797.2,284.3 L797.7,275.3 L797.7,275.3 L798.2,266.3 L799.1,266.3 L799.6,257.3 L805.0,257.3 L805.5,266.3 L806.2,266.3 L806.7,257.3 L807.0,257.3 L807.5,248.3 L807.7,248.3 L808.2,239.3 L809.4,239.3 L809.9,230.3 L815.1,230.3 L815.6,239.3 L815.6,239.3 L815.8,248.3 L815.8,248.3 L816.3,257.3 L816.3,257.3 L816.5,248.3 L816.5,248.3 L817.0,239.3 L817.3,239.3 L817.8,230.3 L817.8,230.3 L818.3,221.3 L819.4,221.3 L819.9,230.3 L819.9,230.3 L820.3,239.3 L820.3,239.3 L820.5,248.3 L820.5,248.3 L820.8,257.3 L820.8,257.3 L821.2,266.3 L821.2,266.3 L821.4,275.3 L821.4,275.3 L821.6,266.3 L821.6,266.3 L822.1,257.3 L822.1,257.3 L822.5,239.3 L822.5,239.3 L822.8,230.3 L822.8,230.3 L823.0,221.3 L824.5,221.3 L825.0,212.3 L833.9,212.3 L834.4,221.3 L834.4,221.3 L834.6,239.3 L834.6,239.3 L834.8,248.3 L834.8,248.3 L835.1,257.3 L835.1,257.3 L835.3,266.3 L835.3,266.3 L835.5,275.3 L835.5,275.3 L835.8,284.3 L835.8,284.3 L836.0,293.3 L836.0,293.3 L836.5,302.3 L836.5,302.3 L836.8,311.3 L836.8,311.3 L837.0,320.3 L837.0,320.3 L837.5,329.3 L839.7,329.3 L840.2,320.3 L840.2,320.3 L840.7,311.3 L841.0,311.3 L841.5,302.3 L841.7,302.3 L842.2,293.3 L842.2,293.3 L842.4,284.3 L842.4,284.3 L842.9,275.3 L842.9,275.3 L843.1,266.3 L843.1,266.3 L843.6,257.3 L843.6,257.3 L843.8,248.3 L843.8,248.3 L844.1,239.3 L844.1,239.3 L844.3,230.3 L844.3,230.3 L844.6,221.3 L844.6,221.3 L845.1,212.3 L845.1,212.3 L845.3,203.3 L845.8,203.3 L846.3,194.3 L851.8,194.3 L852.3,203.3 L852.3,203.3 L852.5,212.3 L852.5,212.3 L852.8,221.3 L852.8,221.3 L853.0,230.3 L853.0,230.3 L853.3,239.3 L853.3,239.3 L853.5,248.3 L853.5,248.3 L853.8,257.3 L853.8,257.3 L854.3,266.3 L854.3,266.3 L854.5,275.3 L854.5,275.3 L854.7,284.3 L854.7,284.3 L854.9,293.3 L854.9,293.3 L855.4,302.3 L855.4,302.3 L855.6,293.3 L855.6,293.3 L856.1,284.3 L856.1,284.3 L856.3,275.3 L856.3,275.3 L856.5,266.3 L856.5,266.3 L856.7,257.3 L856.7,257.3 L857.0,248.3 L857.0,248.3 L857.2,239.3 L857.2,239.3 L857.4,230.3 L857.4,230.3 L857.6,212.3 L857.6,212.3 L857.8,203.3 L857.8,203.3 L858.1,194.3 L862.3,194.3 L862.8,203.3 L863.7,203.3 L864.2,194.3 L865.8,194.3 L866.3,185.3 L872.0,185.3 L872.5,194.3 L873.7,194.3 L874.2,185.3 L875.4,185.3 L875.9,176.3 L882.7,176.3 L883.2,185.3 L884.7,185.3 L885.2,176.3 L885.9,176.3 L886.4,167.3 L899.0,167.3 L899.5,158.3 L909.5,158.3 L910.0,167.3 L911.2,167.3 L911.7,176.3 L912.1,176.3 L912.6,167.3 L912.6,167.3 L913.0,158.3 L913.0,158.3 L913.5,149.3 L917.0,149.3 L917.5,158.3 L918.7,158.3 L919.2,149.3 L921.4,149.3 L921.9,140.3 L929.5,140.3 L930.0,149.3 L930.0,149.3 L930.5,158.3 L930.5,158.3 L930.7,167.3 L930.7,167.3 L931.1,176.3 L931.1,176.3 L931.4,185.3 L931.4,185.3 L931.6,194.3 L931.6,194.3 L931.9,203.3 L931.9,203.3 L932.1,212.3 L932.1,212.3 L932.4,221.3 L932.4,221.3 L932.9,230.3 L932.9,230.3 L933.1,239.3 L933.1,239.3 L933.4,248.3 L933.4,248.3 L933.6,257.3 L933.6,257.3 L933.6,266.3 L933.8,266.3 L934.3,275.3 L937.6,275.3 L938.1,284.3 L939.3,284.3 L939.8,293.3 L947.2,293.3 L947.7,302.3 L948.9,302.3 L949.4,293.3 L951.8,293.3 L952.3,302.3 L961.9,302.3 L962.4,311.3 L976.2,311.3 L976.8,320.3 L990.9,320.3 L991.4,329.3 L1005.5,329.3 L1006.0,338.3 L1020.0,338.3 L1020.5,347.3 L1038.8,347.3 L1039.3,356.3 L1055.5,356.3 L1056.0,365.3 L1074.3,365.3 L1074.8,374.3 L1093.0,374.3 L1093.5,383.3 L1109.8,383.3 L1110.2,392.3 L1128.5,392.3 L1129.0,401.3 L1145.2,401.3 L1145.8,410.3 L1164.0,410.3 L1164.5,419.3 L1182.8,419.3 L1183.2,428.3 L1203.7,428.3 L1204.2,437.3 L1218.2,437.3 L1218.8,446.3 L1237.0,446.3 L1237.5,455.3 L1410.4,455.3 L1410.9,464.3 L1459.2,464.3 L1459.7,473.3 L1461.3,473.3 L1461.8,464.3 L1463.9,464.3 L1464.4,473.3 L1466.1,473.3 L1466.6,464.3 L1468.7,464.3 L1469.2,473.3 L1470.8,473.3 L1471.3,464.3 L1473.4,464.3 L1473.9,473.3 L1536.2,473.3 L1536.7,482.3 L1537.9,482.3 L1538.4,473.3 L1539.6,473.3 L1540.1,482.3 L1541.3,482.3 L1541.8,473.3 L1543.2,473.3 L1543.7,482.3 L1645.5,482.3 L1646.0,491.3 L1647.0,491.3 L1647.5,482.3 L1649.0,482.3 L1649.5,491.3 L1650.5,491.3 L1651.0,482.3 L1652.5,482.3 L1653.0,491.3 L1654.1,491.3 L1654.6,482.3 L1656.1,482.3 L1656.6,491.3 L1695.3,491.3 L1695.8,482.3 L1729.4,482.3 L1729.9,473.3 L1749.2,473.3 L1749.7,464.3 L1763.2,464.3 L1763.7,455.3 L2040.2,455.3 L2040.7,464.3 L2040.8,464.3 L2041.3,455.3 L2091.1,455.3 L2091.6,446.3 L2093.4,446.3 L2093.9,437.3 L2096.1,437.3 L2096.6,428.3 L2099.3,428.3 L2099.8,419.3 L2100.8,419.3 L2101.3,410.3 L2102.3,410.3 L2102.8,401.3 L2103.6,401.3 L2104.1,392.3 L2105.6,392.3 L2106.1,383.3 L2107.8,383.3 L2108.3,374.3 L2109.9,374.3 L2110.4,365.3 L2113.4,365.3 L2113.9,356.3 L2116.8,356.3 L2117.3,347.3 L2118.9,347.3 L2119.4,338.3 L2119.8,338.3 L2120.3,347.3 L2120.8,347.3 L2121.3,356.3 L2121.7,356.3 L2122.2,365.3 L2122.7,365.3 L2123.2,356.3 L2123.4,356.3 L2123.9,347.3 L2124.1,347.3 L2124.6,338.3 L2124.8,338.3 L2125.3,329.3 L2127.0,329.3 L2127.5,320.3 L2130.0,320.3 L2130.5,329.3 L2130.9,329.3 L2131.4,338.3 L2131.9,338.3 L2132.4,347.3 L2132.6,347.3 L2133.1,338.3 L2133.3,338.3 L2133.8,329.3 L2134.0,329.3 L2134.5,320.3 L2134.7,320.3 L2135.2,311.3 L2137.9,311.3 L2138.4,302.3 L2141.1,302.3 L2141.6,293.3 L2144.8,293.3 L2145.3,284.3 L2148.8,284.3 L2149.3,275.3 L2152.4,275.3 L2152.9,266.3 L2155.8,266.3 L2156.3,257.3 L2159.8,257.3 L2160.3,248.3 L2164.7,248.3 L2165.2,239.3 L2170.3,239.3 L2170.8,230.3 L2175.7,230.3 L2176.2,221.3 L2182.4,221.3 L2182.9,212.3 L2188.5,212.3 L2189.0,203.3 L2190.6,203.3 L2191.1,212.3 L2191.3,212.3 L2191.8,221.3 L2192.0,221.3 L2192.5,212.3 L2193.0,212.3 L2193.5,203.3 L2194.1,203.3 L2194.6,194.3 L2199.6,194.3 L2200.1,203.3 L2200.8,203.3 L2201.3,194.3 L2202.2,194.3 L2202.7,185.3 L2210.7,185.3 L2211.2,176.3 L2217.7,176.3 L2218.2,167.3 L2224.6,167.3 L2225.1,158.3 L2233.1,158.3 L2233.6,149.3 L2240.4,149.3 L2240.9,140.3 L2250.3,140.3 L2250.8,131.3 L2260.2,131.3 L2260.7,122.3 L2270.1,122.3 L2270.6,113.3 L2292.0,113.3 L2292.5,122.3 L2292.5,122.3 L2292.8,131.3 L2292.8,131.3 L2293.0,149.3 L2293.0,149.3 L2293.2,158.3 L2293.2,158.3 L2293.5,176.3 L2293.5,176.3 L2293.7,185.3 L2293.7,185.3 L2293.9,203.3 L2293.9,203.3 L2294.2,212.3 L2294.2,212.3 L2294.7,221.3 L2294.7,221.3 L2294.9,230.3 L2294.9,230.3 L2295.4,239.3 L2296.0,239.3 L2296.5,248.3 L2297.7,248.3 L2298.2,257.3 L2299.8,257.3 L2300.3,266.3 L2301.9,266.3 L2302.4,275.3 L2304.3,275.3 L2304.8,284.3 L2318.7,284.3 L2319.2,293.3 L2335.4,293.3 L2335.9,302.3 L2352.0,302.3 L2352.5,311.3 L2366.6,311.3 L2367.1,320.3 L2378.9,320.3 L2379.4,329.3 L2395.8,329.3 L2396.3,338.3 L2412.5,338.3 L2413.0,347.3 L2433.4,347.3 L2433.9,356.3 L2452.2,356.3 L2452.7,365.3 L2470.9,365.3 L2471.4,374.3 L2493.9,374.3 L2494.4,383.3 L2514.5,383.3 L2515.0,392.3 L2535.3,392.3 L2535.8,401.3 L2556.4,401.3 L2556.9,410.3 L2577.3,410.3 L2577.8,419.3 L2595.8,419.3 L2596.3,428.3 L2616.7,428.3 L2617.2,437.3 L2637.7,437.3 L2638.2,446.3 L2653.7,446.3 L2654.2,455.3 L2675.0,455.3 L2675.5,464.3 L2694.7,464.3 L2695.2,473.3 L2711.1,473.3 L2711.6,482.3 L2732.4,482.3 L2732.9,491.3 L2747.2,491.3 L2747.7,500.3 L2761.9,500.3 L2762.4,509.3 L2773.4,509.3 L2773.9,518.3 L2779.9,518.3 L2780.4,527.3 L2788.1,527.3 L2788.6,536.3 L2794.7,536.3 L2795.2,545.3 L2802.5,545.3 L2803.0,554.3 L2803.4,554.3 L2803.9,545.3 L2849.5,545.3" fill="none" stroke="#5794F2" stroke-width="3.9" stroke-linejoin="round" stroke-linecap="butt"/><path d="M127.0,612.5 L130.0,612.6 L133.0,612.6 L136.0,612.5 L139.0,613.4 L142.0,612.7 L145.0,613.3 L146.0,612.0 L149.0,612.3 L152.0,612.9 L155.0,612.3 L158.0,613.1 L161.0,613.4 L164.0,613.0 L167.0,613.6 L170.0,614.0 L173.0,614.3 L176.0,614.2 L179.0,614.5 L182.0,614.1 L185.0,614.2 L188.0,614.2 L191.0,614.7 L194.0,615.2 L197.0,615.0 L200.0,615.0 L203.0,615.4 L206.0,615.1 L209.0,615.6 L212.0,615.1 L215.0,615.4 L218.0,615.9 L221.0,616.1 L224.0,615.9 L227.0,615.7 L230.0,616.2 L233.0,616.1 L236.0,616.2 L239.0,616.4 L242.0,617.0 L245.0,616.5 L248.0,617.4 L251.0,617.5 L254.0,616.8 L257.0,617.2 L260.0,617.5 L263.1,617.6 L266.2,617.2 L269.2,617.7 L272.3,618.3 L275.4,617.6 L278.5,618.2 L281.5,617.8 L284.6,618.3 L287.7,618.7 L290.8,618.1 L293.8,618.0 L296.9,618.2 L300.0,618.7 L303.1,618.8 L306.3,618.3 L309.4,618.5 L312.5,618.9 L315.6,619.4 L318.8,619.0 L321.9,619.0 L325.0,619.3 L328.2,618.8 L331.3,619.3 L334.4,616.8 L337.5,613.8 L340.7,611.5 L343.8,607.9 L346.9,604.6 L350.1,600.5 L353.2,596.6 L356.3,593.5 L359.4,590.1 L362.6,586.4 L365.7,582.2 L368.8,578.4 L372.0,575.2 L375.1,570.8 L378.2,568.2 L381.4,564.2 L384.5,561.4 L387.6,556.4 L390.7,551.4 L393.9,545.8 L397.0,540.4 L400.1,535.7 L403.3,530.1 L406.4,525.4 L409.5,522.2 L412.6,519.3 L415.8,516.0 L418.9,512.5 L422.0,509.0 L425.2,505.1 L428.3,500.5 L431.4,496.6 L434.5,492.6 L437.7,494.1 L440.8,495.0 L443.9,495.3 L447.1,495.7 L450.2,496.1 L453.3,497.2 L456.4,497.3 L459.6,497.9 L462.7,497.8 L465.8,499.1 L469.0,499.2 L472.1,499.8 L475.2,500.4 L478.3,500.9 L481.5,501.9 L484.6,502.6 L487.7,503.1 L490.9,504.4 L494.0,505.1 L497.1,505.2 L500.3,506.4 L503.4,506.2 L506.5,507.5 L509.6,508.0 L512.8,508.2 L515.9,509.0 L519.0,510.0 L522.2,510.3 L525.3,511.6 L528.4,512.1 L531.5,512.9 L535.5,512.5 L539.5,513.0 L543.4,512.3 L545.6,501.8 L546.8,503.4 L549.0,475.0 L552.3,472.8 L554.6,486.2 L556.0,478.0 L557.1,523.3 L558.2,487.5 L559.2,532.2 L560.3,483.4 L561.4,529.3 L562.5,485.8 L563.6,524.2 L564.7,477.4 L565.8,535.6 L566.8,488.5 L567.9,529.5 L569.0,487.4 L569.1,496.7 L570.2,486.2 L573.6,468.3 L576.9,463.9 L580.3,462.1 L583.6,460.5 L588.1,458.3 L589.0,476.3 L590.0,511.9 L591.0,461.0 L592.0,526.6 L593.0,474.2 L594.0,515.5 L595.0,471.4 L596.0,522.8 L597.0,470.3 L597.0,477.3 L599.3,490.7 L601.5,477.3 L603.7,475.0 L606.0,488.4 L608.2,495.1 L610.4,532.5 L614.9,523.5 L618.3,532.5 L621.6,525.8 L626.1,520.2 L629.4,532.5 L631.7,503.4 L635.0,481.7 L637.3,486.2 L641.7,512.3 L645.1,523.5 L648.4,507.9 L651.8,484.0 L654.0,495.1 L655.1,525.8 L658.5,505.6 L661.8,494.5 L665.2,510.1 L669.7,523.5 L673.0,536.9 L676.4,523.5 L679.7,534.7 L684.2,531.3 L688.7,533.6 L692.0,532.3 L695.4,531.3 L698.7,532.3 L702.1,532.5 L706.5,529.1 L708.8,519.1 L711.0,529.1 L715.5,530.2 L718.8,534.7 L722.2,523.5 L725.5,510.1 L727.8,519.1 L730.0,534.7 L732.2,510.1 L734.5,543.6 L736.7,523.5 L738.9,486.2 L742.3,468.3 L746.8,454.9 L751.2,443.7 L755.7,432.6 L759.1,425.7 L762.4,419.2 L765.5,410.8 L768.5,401.8 L771.6,394.0 L774.7,385.1 L778.0,385.1 L783.6,371.7 L787.0,382.9 L789.2,361.7 L793.7,356.1 L796.6,369.5 L798.2,349.4 L802.6,342.7 L806.0,344.9 L808.2,336.0 L812.7,318.1 L816.0,317.0 L816.5,317.0 L818.0,371.0 L820.6,407.5 L822.0,360.0 L823.0,313.6 L826.1,308.0 L831.7,305.8 L833.5,340.0 L836.5,400.0 L839.6,434.5 L841.5,400.0 L843.0,340.0 L844.5,309.0 L846.2,302.5 L849.6,295.8 L851.8,300.2 L852.5,340.0 L854.7,407.0 L856.5,370.0 L857.4,320.0 L858.5,299.1 L861.8,300.2 L864.1,298.0 L868.5,294.6 L871.9,292.4 L872.6,365.0 L874.1,291.3 L878.6,286.8 L880.8,284.6 L883.1,286.8 L885.3,389.6 L886.4,286.8 L888.7,282.3 L892.0,281.0 L895.4,280.1 L899.8,277.4 L904.3,275.6 L908.8,273.4 L912.1,272.8 L915.5,271.2 L919.9,268.9 L924.4,267.8 L928.9,270.1 L931.1,304.7 L932.2,360.6 L934.5,387.4 L937.8,400.8 L940.0,406.8 L944.2,419.4 L948.3,421.4 L950.4,419.4 L953.6,423.2 L956.7,427.7 L960.9,432.3 L965.0,436.0 L969.2,438.6 L973.4,440.2 L977.5,441.4 L981.7,442.3 L984.8,443.4 L988.0,445.0 L991.1,446.7 L994.2,448.6 L997.5,449.6 L1000.7,451.0 L1004.0,452.5 L1007.2,453.0 L1010.4,454.0 L1013.7,455.6 L1016.9,456.3 L1020.2,457.4 L1023.4,459.0 L1026.6,460.0 L1029.8,461.1 L1033.0,461.4 L1036.3,462.8 L1039.5,464.0 L1042.7,465.0 L1045.9,465.6 L1049.1,467.1 L1052.3,467.3 L1055.5,468.8 L1058.7,469.8 L1061.9,470.9 L1065.1,471.5 L1068.3,472.5 L1071.4,473.2 L1074.5,474.2 L1077.6,475.7 L1080.8,476.4 L1083.9,477.9 L1087.0,478.4 L1090.2,479.8 L1093.4,481.6 L1096.7,482.6 L1100.0,484.4 L1103.3,485.2 L1106.5,486.6 L1109.8,488.2 L1113.0,489.6 L1116.3,490.7 L1119.5,491.7 L1122.8,493.3 L1126.0,495.0 L1129.3,495.9 L1132.5,497.6 L1135.8,498.4 L1139.0,499.2 L1142.3,501.5 L1145.5,502.7 L1148.8,503.6 L1152.0,504.9 L1155.3,506.2 L1158.5,507.9 L1161.8,508.4 L1165.1,510.2 L1168.3,511.4 L1171.6,512.7 L1174.8,513.8 L1178.1,515.5 L1181.3,516.8 L1184.6,517.5 L1187.8,519.4 L1191.1,520.5 L1194.3,521.8 L1197.6,523.2 L1200.8,524.0 L1204.1,525.8 L1207.3,527.0 L1210.4,528.1 L1213.5,529.8 L1216.5,530.3 L1219.6,532.1 L1222.7,533.2 L1225.7,534.3 L1228.8,535.8 L1231.9,536.2 L1234.9,537.9 L1238.0,539.1 L1241.1,540.4 L1244.1,541.3 L1247.2,542.2 L1250.3,543.8 L1253.4,543.0 L1256.6,543.0 L1259.8,542.1 L1263.0,541.5 L1266.2,541.3 L1269.4,540.9 L1272.5,540.5 L1275.7,539.5 L1278.9,539.5 L1282.0,539.3 L1285.2,538.3 L1288.4,538.2 L1291.5,536.9 L1294.7,537.4 L1297.8,536.5 L1301.0,536.3 L1304.1,535.8 L1307.3,535.1 L1310.5,533.9 L1313.6,533.6 L1316.8,533.0 L1319.9,533.0 L1323.1,531.9 L1326.2,531.4 L1329.4,530.7 L1332.6,530.6 L1335.6,529.8 L1338.6,530.2 L1341.6,529.8 L1344.7,528.8 L1347.7,528.8 L1350.7,528.1 L1353.7,527.7 L1356.8,527.2 L1359.8,527.0 L1362.8,526.2 L1365.9,525.8 L1368.9,525.7 L1371.9,525.2 L1375.1,524.1 L1378.4,523.6 L1381.6,523.3 L1384.8,521.6 L1388.0,520.9 L1391.2,520.8 L1394.5,519.3 L1397.7,518.7 L1400.9,518.5 L1404.1,517.4 L1407.7,517.2 L1411.3,516.6 L1414.8,516.3 L1418.4,516.3 L1422.0,516.3 L1425.3,516.1 L1428.5,516.6 L1431.8,516.8 L1435.0,516.6 L1438.3,516.7 L1441.5,516.7 L1444.8,516.7 L1448.0,516.7 L1451.3,516.7 L1454.5,515.9 L1457.8,516.3 L1461.0,516.1 L1464.1,516.0 L1467.3,516.4 L1470.5,516.3 L1473.7,516.1 L1476.8,516.6 L1480.0,516.3 L1483.0,516.2 L1486.0,516.0 L1489.0,516.1 L1492.0,516.2 L1495.0,516.4 L1498.0,516.3 L1501.1,516.2 L1504.1,516.0 L1507.1,516.2 L1510.1,516.1 L1513.1,515.9 L1516.1,516.3 L1519.1,516.0 L1522.1,516.5 L1525.1,516.4 L1528.1,515.9 L1531.1,516.4 L1534.1,516.1 L1537.1,516.2 L1540.1,516.4 L1543.2,516.5 L1546.2,516.7 L1549.2,516.5 L1552.2,516.0 L1555.2,516.3 L1558.2,516.1 L1561.2,515.8 L1564.2,516.3 L1567.2,516.2 L1570.2,516.6 L1573.2,516.1 L1576.2,516.6 L1579.2,516.3 L1582.3,515.9 L1585.3,516.5 L1588.3,516.1 L1591.3,516.3 L1594.3,515.9 L1597.3,515.8 L1600.3,516.7 L1603.3,515.8 L1606.3,515.9 L1609.3,515.9 L1612.3,515.9 L1615.3,516.6 L1618.3,516.8 L1621.3,516.4 L1624.4,516.2 L1627.4,516.7 L1630.4,516.3 L1633.4,515.9 L1636.4,516.5 L1639.4,516.1 L1642.4,516.0 L1645.4,516.1 L1648.4,516.2 L1651.4,516.0 L1654.4,516.4 L1657.4,516.6 L1660.4,516.3 L1663.5,515.8 L1666.5,516.5 L1669.5,515.8 L1672.5,516.3 L1675.5,516.6 L1678.5,516.5 L1681.5,516.7 L1684.5,516.5 L1687.5,516.3 L1691.1,515.2 L1694.7,514.1 L1698.2,513.5 L1701.8,512.7 L1704.9,511.9 L1708.0,510.4 L1711.0,509.5 L1714.1,508.9 L1717.2,507.4 L1720.2,506.7 L1723.3,505.5 L1726.4,504.2 L1729.6,503.3 L1732.7,501.0 L1735.8,499.9 L1738.9,499.1 L1742.1,497.7 L1745.2,495.8 L1748.3,494.8 L1751.9,491.5 L1755.5,488.6 L1759.1,485.9 L1762.6,482.7 L1766.2,479.4 L1771.6,478.7 L1774.7,480.0 L1777.9,480.2 L1781.0,481.1 L1784.1,482.3 L1787.7,483.0 L1791.3,483.4 L1794.8,484.4 L1798.4,485.1 L1802.0,485.2 L1805.6,486.4 L1809.2,487.0 L1812.7,487.7 L1814.5,493.0 L1816.3,487.7 L1819.4,488.2 L1822.4,488.2 L1825.5,489.5 L1828.6,489.6 L1831.6,490.2 L1834.7,490.9 L1837.8,491.2 L1841.4,492.4 L1844.9,492.7 L1848.5,493.8 L1852.1,494.6 L1855.7,494.8 L1858.7,495.0 L1861.8,495.8 L1864.8,496.9 L1867.8,497.4 L1870.9,498.2 L1873.9,498.0 L1877.0,498.9 L1880.0,499.5 L1883.2,500.4 L1886.3,500.5 L1889.5,501.1 L1892.6,501.9 L1895.8,502.0 L1899.0,502.1 L1902.3,502.5 L1905.5,503.8 L1908.8,504.0 L1912.0,504.1 L1915.3,505.2 L1918.5,505.2 L1921.8,505.5 L1925.1,506.2 L1928.3,506.4 L1931.6,507.3 L1934.8,507.6 L1938.1,508.4 L1941.3,508.5 L1944.6,509.4 L1947.8,508.8 L1951.1,509.3 L1954.3,509.7 L1957.6,510.5 L1960.8,510.5 L1964.1,511.4 L1967.3,511.6 L1970.6,511.9 L1973.8,512.2 L1977.1,512.8 L1980.3,513.0 L1983.6,513.4 L1986.8,512.8 L1990.1,513.3 L1993.4,514.2 L1996.6,513.9 L1999.9,514.0 L2003.1,514.5 L2006.4,514.6 L2009.6,514.5 L2012.9,515.3 L2016.1,515.3 L2019.4,514.9 L2022.6,515.9 L2025.9,515.6 L2029.1,515.5 L2032.4,516.1 L2035.6,516.6 L2038.9,516.3 L2042.1,516.1 L2045.4,515.8 L2048.6,516.0 L2051.9,515.8 L2055.2,516.3 L2058.4,516.1 L2061.7,516.6 L2064.9,516.0 L2068.2,515.8 L2071.4,516.2 L2074.7,516.3 L2078.2,515.9 L2081.8,516.1 L2085.4,516.3 L2087.1,524.4 L2091.3,508.8 L2097.0,489.0 L2102.7,466.3 L2108.3,443.7 L2112.6,426.7 L2116.8,415.3 L2121.1,409.7 L2121.9,416.7 L2122.5,421.0 L2123.3,412.5 L2125.3,401.2 L2129.6,387.0 L2131.0,401.2 L2132.4,421.0 L2133.3,398.3 L2133.8,381.3 L2138.1,374.2 L2142.4,354.4 L2143.8,361.0 L2145.3,351.4 L2149.8,340.1 L2157.3,328.8 L2158.7,334.1 L2160.2,326.7 L2164.7,319.2 L2172.2,309.7 L2179.6,301.3 L2187.1,291.8 L2190.0,289.4 L2190.9,296.9 L2191.8,288.5 L2194.5,283.5 L2199.9,278.1 L2200.8,284.9 L2201.7,276.9 L2209.4,268.6 L2224.3,258.1 L2239.2,250.7 L2254.1,241.7 L2266.1,236.4 L2266.9,240.2 L2267.8,236.1 L2269.0,235.8 L2283.9,231.3 L2286.9,230.7 L2287.8,235.2 L2288.7,230.4 L2291.4,229.8 L2292.5,263.4 L2294.6,363.5 L2298.8,384.4 L2304.7,399.6 L2307.8,401.6 L2310.9,402.3 L2314.1,404.8 L2317.2,405.9 L2320.5,407.0 L2323.9,408.4 L2327.2,409.5 L2330.6,411.2 L2333.9,412.2 L2337.4,413.9 L2340.8,415.9 L2344.3,417.0 L2347.8,419.5 L2351.3,421.2 L2354.8,422.6 L2358.2,424.5 L2361.7,425.8 L2365.2,427.6 L2368.7,429.5 L2372.1,430.9 L2375.6,433.0 L2379.1,434.9 L2382.6,435.7 L2386.1,437.7 L2389.5,438.3 L2393.0,440.1 L2396.5,441.4 L2400.0,442.7 L2403.5,443.6 L2406.9,444.4 L2410.4,445.1 L2413.9,446.5 L2417.4,447.6 L2420.8,448.6 L2424.3,450.2 L2427.8,451.2 L2431.3,452.3 L2434.8,453.3 L2438.2,453.9 L2441.7,454.6 L2445.2,455.5 L2448.7,456.8 L2452.1,457.6 L2455.6,458.7 L2459.1,460.2 L2462.6,461.5 L2466.1,462.4 L2469.5,464.0 L2473.0,465.1 L2476.5,466.2 L2480.0,467.7 L2483.4,469.3 L2486.9,469.7 L2490.4,471.6 L2493.9,472.4 L2497.4,473.8 L2500.8,474.8 L2504.3,475.5 L2507.8,477.1 L2511.3,478.3 L2514.7,478.6 L2518.2,480.0 L2521.7,481.0 L2525.2,482.6 L2528.7,483.8 L2532.1,485.5 L2535.6,486.7 L2539.1,487.8 L2542.6,489.4 L2546.0,490.8 L2549.5,492.2 L2553.0,493.1 L2556.5,494.5 L2560.0,495.8 L2563.4,496.9 L2566.9,498.1 L2570.4,498.8 L2573.9,500.4 L2577.4,501.9 L2580.8,503.0 L2584.3,504.0 L2587.8,505.0 L2591.3,506.8 L2594.7,508.3 L2598.2,509.6 L2601.7,510.6 L2605.2,512.3 L2608.7,513.5 L2612.1,514.6 L2615.6,515.5 L2619.1,517.0 L2622.6,517.6 L2626.0,518.6 L2629.5,519.5 L2633.0,521.2 L2636.5,523.0 L2640.0,523.7 L2643.4,526.0 L2646.9,526.9 L2650.4,528.5 L2653.9,530.0 L2657.3,530.8 L2660.8,532.0 L2664.3,534.3 L2667.8,535.3 L2671.3,536.7 L2674.7,538.0 L2678.2,539.5 L2681.7,541.1 L2685.2,542.1 L2688.6,543.6 L2692.1,545.3 L2695.6,546.1 L2699.1,548.3 L2702.6,549.4 L2706.0,550.4 L2709.5,552.0 L2713.0,553.4 L2716.5,555.2 L2719.9,556.0 L2723.4,557.8 L2726.9,559.4 L2730.4,560.3 L2733.9,562.2 L2737.3,562.9 L2740.8,564.8 L2744.3,566.0 L2747.8,567.6 L2751.3,568.7 L2754.4,569.8 L2757.5,571.7 L2760.0,571.0 L2770.7,577.2 L2777.9,586.2 L2786.8,595.1 L2795.8,604.1 L2802.9,612.1 L2806.5,610.3 L2813.7,609.4 L2831.6,607.7 L2849.5,605.8" fill="none" stroke="#F2495C" stroke-width="3.9" stroke-linejoin="round" stroke-linecap="butt"/></g>
<g fill="#d8d9da" stroke="#d8d9da" stroke-width="0.4" font-family="'Liberation Sans', Arial, sans-serif" font-size="23.4"><text x="77.28" y="642.70" textLength="38.68" lengthAdjust="spacingAndGlyphs" font-size="24">0 W</text><text x="51.94" y="552.80" textLength="64.02" lengthAdjust="spacingAndGlyphs" font-size="24">100 W</text><text x="52.50" y="462.10" textLength="63.46" lengthAdjust="spacingAndGlyphs" font-size="24">200 W</text><text x="52.78" y="373.20" textLength="63.18" lengthAdjust="spacingAndGlyphs" font-size="24">300 W</text><text x="53.15" y="282.30" textLength="62.81" lengthAdjust="spacingAndGlyphs" font-size="24">400 W</text><text x="52.69" y="191.60" textLength="63.27" lengthAdjust="spacingAndGlyphs" font-size="24">500 W</text><text x="52.50" y="102.70" textLength="63.46" lengthAdjust="spacingAndGlyphs" font-size="24">600 W</text><text x="2866.88" y="642.70" textLength="77.05" lengthAdjust="spacingAndGlyphs" font-size="24">22.00 V</text><text x="2866.88" y="552.80" textLength="77.05" lengthAdjust="spacingAndGlyphs" font-size="24">23.00 V</text><text x="2866.88" y="462.10" textLength="77.05" lengthAdjust="spacingAndGlyphs" font-size="24">24.00 V</text><text x="2866.88" y="373.20" textLength="77.05" lengthAdjust="spacingAndGlyphs" font-size="24">25.00 V</text><text x="2866.88" y="282.30" textLength="77.05" lengthAdjust="spacingAndGlyphs" font-size="24">26.00 V</text><text x="2866.88" y="191.60" textLength="77.05" lengthAdjust="spacingAndGlyphs" font-size="24">27.00 V</text><text x="2866.88" y="102.70" textLength="77.05" lengthAdjust="spacingAndGlyphs" font-size="24">28.00 V</text><text x="144.63" y="669.50" textLength="110.09" lengthAdjust="spacingAndGlyphs" font-size="24">3/22 04:00</text><text x="371.48" y="669.50" textLength="110.09" lengthAdjust="spacingAndGlyphs" font-size="24">3/22 08:00</text><text x="598.33" y="669.50" textLength="110.09" lengthAdjust="spacingAndGlyphs" font-size="24">3/22 12:00</text><text x="825.18" y="669.50" textLength="110.09" lengthAdjust="spacingAndGlyphs" font-size="24">3/22 16:00</text><text x="1052.03" y="669.50" textLength="110.09" lengthAdjust="spacingAndGlyphs" font-size="24">3/22 20:00</text><text x="1278.88" y="669.50" textLength="110.09" lengthAdjust="spacingAndGlyphs" font-size="24">3/23 00:00</text><text x="1505.73" y="669.50" textLength="110.09" lengthAdjust="spacingAndGlyphs" font-size="24">3/23 04:00</text><text x="1732.58" y="669.50" textLength="110.09" lengthAdjust="spacingAndGlyphs" font-size="24">3/23 08:00</text><text x="1959.43" y="669.50" textLength="110.09" lengthAdjust="spacingAndGlyphs" font-size="24">3/23 12:00</text><text x="2186.28" y="669.50" textLength="110.09" lengthAdjust="spacingAndGlyphs" font-size="24">3/23 16:00</text><text x="2413.13" y="669.50" textLength="110.09" lengthAdjust="spacingAndGlyphs" font-size="24">3/23 20:00</text><text x="2639.98" y="669.50" textLength="110.09" lengthAdjust="spacingAndGlyphs" font-size="24">3/24 00:00</text><text transform="translate(36.3,421.87) rotate(-90)" x="0" y="0" textLength="87.22" lengthAdjust="spacingAndGlyphs">Leistung</text><text transform="translate(2962.5,325.83) rotate(90)" x="0" y="0" textLength="103.53" lengthAdjust="spacingAndGlyphs">Spannung</text><rect x="32.3" y="707.2" width="23.6" height="6.6" rx="1.8" fill="#B877D9" stroke="none"/><text x="62.34" y="718.20" textLength="123.15" lengthAdjust="spacingAndGlyphs" font-size="22.6">DC-Leistung</text><text x="196.22" y="718.20" textLength="137.70" lengthAdjust="spacingAndGlyphs" font-size="22.6">Max: 90.00 W</text><text x="345.40" y="718.20" textLength="130.66" lengthAdjust="spacingAndGlyphs" font-size="22.6">Avg: 58.16 W</text><text x="487.83" y="718.20" textLength="167.56" lengthAdjust="spacingAndGlyphs" font-size="22.6">Current: 38.00 W</text><rect x="675.4" y="707.2" width="23.5" height="6.6" rx="1.8" fill="#FADE2A" stroke="none"/><text x="707.40" y="718.20" textLength="121.83" lengthAdjust="spacingAndGlyphs" font-size="22.6">AC-Leistung</text><text x="840.14" y="718.20" textLength="136.28" lengthAdjust="spacingAndGlyphs" font-size="22.6">Max: 82.00 W</text><text x="989.20" y="718.20" textLength="130.76" lengthAdjust="spacingAndGlyphs" font-size="22.6">Avg: 51.96 W</text><text x="1131.63" y="718.20" textLength="167.66" lengthAdjust="spacingAndGlyphs" font-size="22.6">Current: 32.00 W</text><rect x="1319.2" y="707.2" width="23.1" height="6.6" rx="1.8" fill="#73BF69" stroke="none"/><text x="1348.88" y="718.20" textLength="123.00" lengthAdjust="spacingAndGlyphs" font-size="22.6">PV-Leistung</text><text x="1482.73" y="718.20" textLength="149.05" lengthAdjust="spacingAndGlyphs" font-size="22.6">Max: 493.42 W</text><text x="1644.60" y="718.20" textLength="129.96" lengthAdjust="spacingAndGlyphs" font-size="22.6">Avg: 69.25 W</text><text x="1785.73" y="718.20" textLength="124.06" lengthAdjust="spacingAndGlyphs" font-size="22.6">Current: 0 W</text><rect x="2362.5" y="707.2" width="23.6" height="6.6" rx="1.8" fill="#5794F2" stroke="none"/><text x="2392.56" y="718.20" textLength="138.41" lengthAdjust="spacingAndGlyphs" font-size="22.6">DC-Spannung</text><text x="2540.61" y="718.20" textLength="132.55" lengthAdjust="spacingAndGlyphs" font-size="22.6">Max: 27.80 V</text><text x="2684.60" y="718.20" textLength="125.70" lengthAdjust="spacingAndGlyphs" font-size="22.6">Avg: 24.40 V</text><text x="2821.92" y="718.20" textLength="162.50" lengthAdjust="spacingAndGlyphs" font-size="22.6">Current: 23.00 V</text><rect x="2321.7" y="747.0" width="23.1" height="6.6" rx="1.8" fill="#F2495C" stroke="none"/><text x="2351.17" y="758.00" textLength="179.92" lengthAdjust="spacingAndGlyphs" font-size="22.6">Batteriespannung</text><text x="2540.92" y="758.00" textLength="131.44" lengthAdjust="spacingAndGlyphs" font-size="22.6">Max: 26.49 V</text><text x="2685.30" y="758.00" textLength="124.30" lengthAdjust="spacingAndGlyphs" font-size="22.6">Avg: 23.61 V</text><text x="2822.03" y="758.00" textLength="161.40" lengthAdjust="spacingAndGlyphs" font-size="22.6">Current: 22.32 V</text></g>
<g fill="#d8d9da" font-family="'Liberation Sans', Arial, sans-serif" font-size="26.5" font-weight="bold"><text x="1046.13" y="44.40" textLength="868.59" lengthAdjust="spacingAndGlyphs">PV-Leistung, Batt-Spannung, DC-Spannung, DC-Leistung, AC-Wirkleistung</text></g>
<path d="M1930.8,31.6 L1944.4,31.6 L1937.6,39.4 Z" fill="#8e8e8e" stroke="#8e8e8e" stroke-width="1.6" stroke-linejoin="round"/>
</svg>
</body></html>
